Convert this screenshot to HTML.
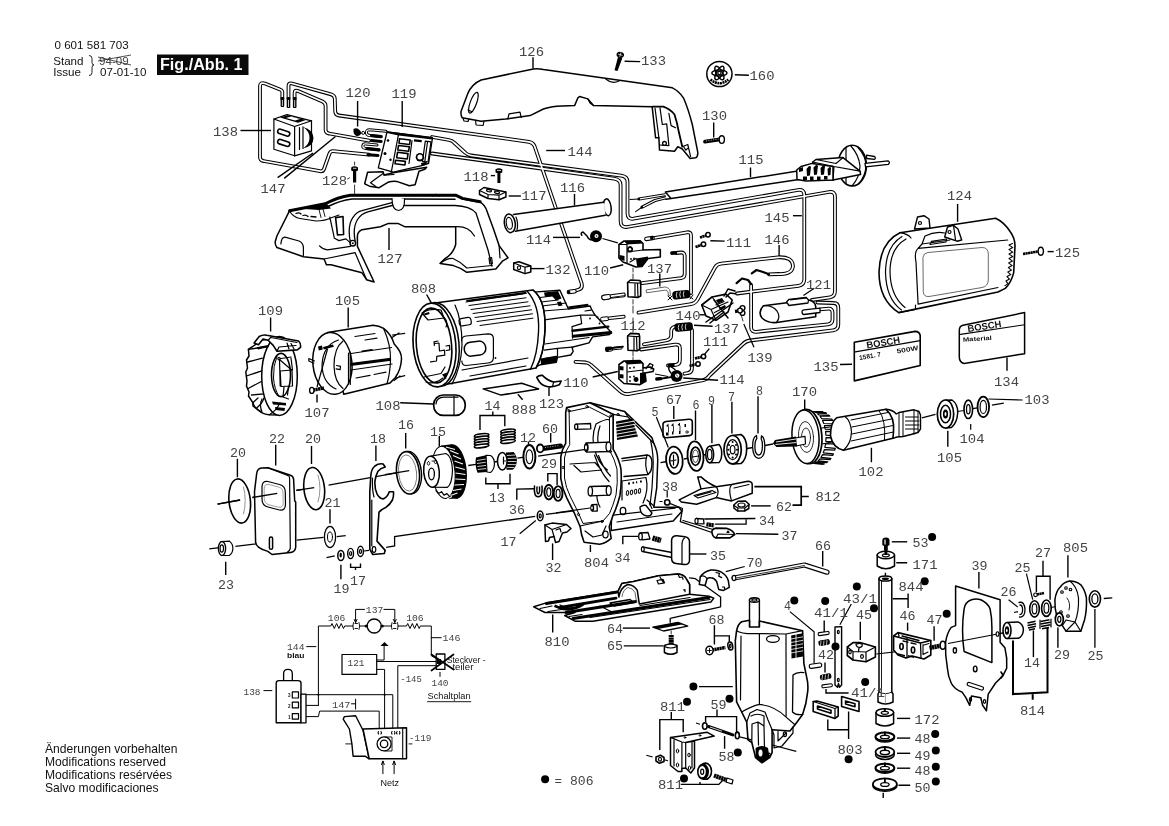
<!DOCTYPE html>
<html><head><meta charset="utf-8"><title>Fig./Abb. 1</title>
<style>
html,body{margin:0;padding:0;background:#fff;}
body{width:1169px;height:826px;overflow:hidden;}
svg{display:block;filter:grayscale(1);}
.l{font-family:"Liberation Mono",monospace;font-size:12.5px;fill:#444;}
.s{font-family:"Liberation Sans",sans-serif;fill:#111;}
.k{stroke:#000;fill:none;stroke-width:1.2;stroke-linecap:round;stroke-linejoin:round;}
.t{stroke:#000;fill:none;stroke-width:0.8;stroke-linecap:round;stroke-linejoin:round;}
.h{stroke:#000;fill:none;stroke-width:1.8;stroke-linecap:round;stroke-linejoin:round;}
.w{stroke:#000;fill:#fff;stroke-width:1.2;stroke-linecap:round;stroke-linejoin:round;}
.wt{stroke:#000;fill:#fff;stroke-width:0.8;stroke-linejoin:round;}
.b{fill:#000;stroke:none;}
.ld{stroke:#000;fill:none;stroke-width:1.4;}
.wr{stroke:#000;fill:none;stroke-width:3.8;stroke-linejoin:round;stroke-linecap:round;}
.wi{stroke:#fff;fill:none;stroke-width:1.7;stroke-linejoin:round;stroke-linecap:round;}
</style></head><body>
<svg width="1169" height="826" viewBox="0 0 1169 826">
<rect x="0" y="0" width="1169" height="826" fill="#fff"/>
<!-- 00_header.svg -->
<g class="s">
<text x="54.5" y="49" font-size="11.6">0 601 581 703</text>
<text x="53.2" y="64.8" font-size="11.6">Stand</text>
<text x="53.2" y="76.2" font-size="11.6">Issue</text>
<text x="100" y="76.2" font-size="11.6">07-01-10</text>
<text x="99" y="64.5" font-size="11.600" fill="#444">94-09</text>
<path d="M98 61 L131 55 M98 57 L131 65" stroke="#222" stroke-width="0.8" fill="none"/>
<path d="M89 55.5 q3 0 3 3 v4 q0 2.5 2 2.5 q-2 0 -2 2.5 v5 q0 3 -3 3" stroke="#222" stroke-width="1" fill="none"/>
<rect x="157" y="54.5" width="91.5" height="20.5" fill="#0a0a0a"/>
<text x="160" y="70" font-size="16" font-weight="bold" fill="#fff" textLength="82.5" lengthAdjust="spacingAndGlyphs">Fig./Abb. 1</text>
<text x="45" y="753" font-size="12.100">Änderungen vorbehalten</text>
<text x="45" y="766" font-size="12.100">Modifications reserved</text>
<text x="45" y="779" font-size="12.100">Modifications resérvées</text>
<text x="45" y="792" font-size="12.100">Salvo modificaciones</text>
</g>

<!-- 10_wires.svg -->
<!-- wires: drawn as black stroke + white inner -->
<g id="wires">
<g class="wr">
<path d="M282.3 99 V91.5 Q282 90 280 89.5 L265 83.5 Q260 82 260 86 V157 Q260 160.5 263.5 161 L320 171.2 Q323 171.8 324 169 L329.5 153.5 Q330.5 151 333 151.2 L369 154.7"/>
<path d="M288.5 99 V86 Q288.5 82.5 292 83.5 L331 94.3 Q334.5 95.3 334.8 98.5 L335.2 111.5 Q335.5 115 339 115.5 L529 141.8 Q533 142.5 534.5 146 L581.5 283 Q583 288 579 289.5 L573 291.5"/>
<path d="M294.6 99 V93 Q294.6 89.5 298 91 L322.5 101.5 Q325.6 103 325.6 106 V129.5 Q325.6 133 329 133.5 L369 140.6"/>
<path d="M432 137 L449 140 Q452 140.5 454 142.5 L465 152.5 Q467.5 155 471 155.5 L621 175.7 Q627.5 176.5 627.5 182 V213.5 Q627.5 219.5 633.5 218.7 L798 190 Q804.3 189 804.3 195 V279 Q804.3 285 798.5 285.8 L737 293.5"/>
<path d="M432 153.5 L614 178.6 Q620.6 179.5 620.6 185 V221 Q620.6 227.8 627 227 L829 192 Q835 191 835 197 V291 Q835 296.5 830 297.3 L812 300"/>
<path d="M638.5 312.6 L691 304.2 Q695.5 303.5 697.5 299.5 L715 267.5 Q717 264 721 263.7 L778 257.3 Q792.5 256.5 793 266 Q792.5 274.5 779 274 L769 274.3"/>
<path d="M751.1 285 V327 Q751.1 332.5 756.5 331.8 L828 324.3 Q832.5 323.8 832.5 319.5 V312.5 Q832.5 308.5 828.5 308.7 L820 309.3"/>
<path d="M575.5 361.8 L586 362.5 Q589 363 591 365 L620 391 Q623.5 394.5 628 394.2 L702 380.5 Q707 379.6 709.5 375.5 L742 345 Q745.5 341 750 340.5 L833 330.3 Q838.3 329.6 838.3 324.5 V308 Q838.3 303 833.5 303 L817.5 302.5"/>
<path d="M654 238 L687 232.3 Q691 231.8 691 235.5 V293"/>
<path d="M676 253 L681 252.5 Q684.7 252.3 684.7 256 V274 Q684.7 277.6 681 278.2 L642 283.2"/>
<path d="M643.9 344.3 L666 340.5 Q671.2 339.5 671.2 335.5 V331 Q671.2 328 674.5 326.8"/>
<path d="M641 349.5 L675 344.6 Q679.9 344 679.9 348 V360 Q679.9 364.5 676 364.8 L668 365.5"/>
<path d="M692 330 V368 Q692 372.5 688 373 L684.5 373.7"/>
</g>
<g class="wi">
<path d="M282.3 99 V91.5 Q282 90 280 89.5 L265 83.5 Q260 82 260 86 V157 Q260 160.5 263.5 161 L320 171.2 Q323 171.8 324 169 L329.5 153.5 Q330.5 151 333 151.2 L369 154.7"/>
<path d="M288.5 99 V86 Q288.5 82.5 292 83.5 L331 94.3 Q334.5 95.3 334.8 98.5 L335.2 111.5 Q335.5 115 339 115.5 L529 141.8 Q533 142.5 534.5 146 L581.5 283 Q583 288 579 289.5 L573 291.5"/>
<path d="M294.6 99 V93 Q294.6 89.5 298 91 L322.5 101.5 Q325.6 103 325.6 106 V129.5 Q325.6 133 329 133.5 L369 140.6"/>
<path d="M432 137 L449 140 Q452 140.5 454 142.5 L465 152.5 Q467.5 155 471 155.5 L621 175.7 Q627.5 176.5 627.5 182 V213.5 Q627.5 219.5 633.5 218.7 L798 190 Q804.3 189 804.3 195 V279 Q804.3 285 798.5 285.8 L737 293.5"/>
<path d="M432 153.5 L614 178.6 Q620.6 179.5 620.6 185 V221 Q620.6 227.8 627 227 L829 192 Q835 191 835 197 V291 Q835 296.5 830 297.3 L812 300"/>
<path d="M638.5 312.6 L691 304.2 Q695.5 303.5 697.5 299.5 L715 267.5 Q717 264 721 263.7 L778 257.3 Q792.5 256.5 793 266 Q792.5 274.5 779 274 L769 274.3"/>
<path d="M751.1 285 V327 Q751.1 332.5 756.5 331.8 L828 324.3 Q832.5 323.8 832.5 319.5 V312.5 Q832.5 308.5 828.5 308.7 L820 309.3"/>
<path d="M575.5 361.8 L586 362.5 Q589 363 591 365 L620 391 Q623.5 394.5 628 394.2 L702 380.5 Q707 379.6 709.5 375.5 L742 345 Q745.5 341 750 340.5 L833 330.3 Q838.3 329.6 838.3 324.5 V308 Q838.3 303 833.5 303 L817.5 302.5"/>
<path d="M654 238 L687 232.3 Q691 231.8 691 235.5 V293"/>
<path d="M676 253 L681 252.5 Q684.7 252.3 684.7 256 V274 Q684.7 277.6 681 278.2 L642 283.2"/>
<path d="M643.9 344.3 L666 340.5 Q671.2 339.5 671.2 335.5 V331 Q671.2 328 674.5 326.8"/>
<path d="M641 349.5 L675 344.6 Q679.9 344 679.9 348 V360 Q679.9 364.5 676 364.8 L668 365.5"/>
<path d="M692 330 V368 Q692 372.5 688 373 L684.5 373.7"/>
</g>
<!-- connector tips at 138 -->
<g class="b">
<rect x="280.6" y="97" width="3.6" height="10" rx="1"/><rect x="286.7" y="97" width="3.6" height="11" rx="1"/><rect x="292.9" y="97" width="3.6" height="11" rx="1"/>
</g>
<g stroke="#fff" stroke-width="0.8"><path d="M282.4 100 v6 M288.5 100 v7 M294.7 100 v7"/></g>
</g>

<!-- 20_topleft.svg -->
<g id="p138">
<path class="w" d="M273.9 119 L287 114.6 L311.5 120.8 L311.5 150.9 L294.6 155.8 L273.9 149.2 Z"/>
<path class="k" d="M273.9 119 L294.6 126.5 L311.5 120.8 M294.6 126.5 V155.8"/>
<path class="b" d="M280 117.5 L287.5 115.2 L306 120 L298 122.8 Z"/>
<path d="M286 118 L291 116.5 L300 119 L295 120.5 Z" fill="#fff"/>
<rect style="stroke-width:1.6" class="k" x="278.5" y="128.5" width="12.5" height="4.6" rx="2.3" transform="rotate(18 278.5 128.5)"/>
<rect style="stroke-width:1.6" class="k" x="278.5" y="138.8" width="12.5" height="4.6" rx="2.3" transform="rotate(18 278.5 138.8)"/>
<path class="k" d="M299.5 127.5 V149.5 M303 126.8 V148.5" />
<path class="b" d="M303 127 Q313.5 130 313.5 138 Q313.5 146 303 148.5 Q309.5 144 309.5 138 Q309.5 131 303 127 Z"/>
<path class="ld" d="M240.5 130.5 H271"/>
</g>
<g id="p147ld"><path class="ld" d="M277.6 177.6 L313 153 M284.2 178.4 L335.5 136.5"/></g>
<g id="p120">
<path class="b" d="M353.500 129 Q357 127 360 130.500 L361.500 133 Q360 136.500 356.500 136 Q353 134.500 353.500 129 Z"/>
<circle style="stroke-width:1" class="w" cx="363.200" cy="132.900" r="1.500"/>
<path class="ld" d="M357.6 101 V126.5"/>
</g>
<g id="p119">
<path class="ld" d="M402.2 101 V127"/>
<!-- terminal loops -->
<path style="stroke-width:3" class="wr" d="M386 131.300 L369.500 129.800 Q366.300 129.800 366.400 132.600 Q366.600 135.300 370 135.600 L381 136.800 M379 150 L365.500 148.500 Q362.500 148 362.800 145.800 Q363.200 143.600 366 143.900 L377 145"/>
<path style="stroke-width:1.100" class="wi" d="M386 131.300 L369.500 129.800 Q366.300 129.800 366.400 132.600 Q366.600 135.300 370 135.600 L381 136.800 M379 150 L365.500 148.500 Q362.500 148 362.800 145.800 Q363.200 143.600 366 143.900 L377 145"/>
<path style="stroke-width:3" class="k" d="M371.500 135.600 L381.200 136.600 M371.500 140.400 L381.200 141.400 M367 148.400 L379 149.700 M368 154.700 L378 155.500"/>
<path style="stroke-width:1.300" class="w" d="M387 132 L432.500 137.800 L428.600 163.400 L422.800 165.400 L393.300 172.200 L378.300 167.800 Z"/>
<path class="k" d="M398.6 133.900 L391.300 172.200"/>
<path class="b" d="M387 131.200 L432.800 137 L432.400 139.600 L398.600 135.400 L387 133 Z"/>
<g style="stroke-width:1.600" class="k"><path d="M399.500 138.700 L410.200 140 L409.600 144.500 L399 143.200 Z M398.500 145.500 L409.300 146.800 L408.600 151.300 L397.800 150 Z M397.500 152.300 L408 153.600 L407.300 159 L396.700 157.700 Z M395.500 160.200 L405.400 161.400 L404.900 165 L395 163.800 Z"/></g>
<path class="b" d="M414.100 139.200 L421.900 140.100 L421.600 142.300 L413.800 141.400 Z"/>
<path style="stroke-width:1.200" class="k" d="M412 140.500 L409 163.500 M425.300 141.200 L431 141.900 L428 162 L422.500 161.300 Z M427.500 142 L424.800 161.500"/>
<circle class="b" cx="419.900" cy="157.200" r="4.200"/><circle cx="419.900" cy="157" r="2.500" fill="#fff"/>
<path class="b" d="M421 163 l6 -1.500 l-0.500 3 l-5 1.300 z"/>
<circle class="b" cx="388" cy="140.500" r="1.300"/><circle class="b" cx="385" cy="153.500" r="1.500"/><circle class="b" cx="390.500" cy="159.700" r="1.200"/>
<!-- trigger -->
<path style="stroke-width:1.500" class="w" d="M367.6 172.2 L383.1 171.7 L384.1 175.1 L393.3 172.7 L426.7 167.3 L424.8 169.3 L419 171.2 L415.1 184.8 L409.3 185.7 L396.7 181.4 Q392 181 387.9 182.3 L379.2 187.7 L369.5 186.2 L364.7 183.8 Z"/>
<path class="k" d="M384.100 175.100 L394 174.500 M375.800 178.800 L370.500 182.700 L375.800 186.600 M375.800 178.800 L383.100 173.500"/>
</g>
<g id="p128">
<path class="b" d="M351.2 167.5 Q354.5 165.2 358 167.5 L358 170.5 L356.2 171.2 L356.2 182.5 L353 182.5 L353 171.2 L351.2 170.5 Z"/>
<path d="M353 168.3 h3.4" stroke="#fff" stroke-width="0.8"/>
<path style="stroke-dasharray:none" class="t" d="M354.6 162 v3 M354.6 185 V197 M354.6 200 V212 M354.6 215 V232 M354.6 236 V243"/>
<path class="t" d="M347.5 179 l2 -1.2"/>
</g>

<!-- 21_handle.svg -->
<g id="p127">
<path style="stroke-width:1.500" class="w" d="M289.6 210.7 L325.2 203.8 Q338 197 350.5 195.2 L455.7 195.6 L462.4 198.9 L480.2 202.2 Q485 205 486.9 211.1 L493.5 228.9 L499.1 245.6 L508 257.8 L502.4 261.2 L495.8 269 L466.8 272.3 Q460 267.5 453.5 265.6 L440.2 263.4 L444.6 259 Q453 254 455.7 244.5 L455.7 226.7 L404.6 226.7 L397.9 223.4 L388.500 223.400 L380.4 226.8 L362 229.7 Q357.500 232 357.400 236 L357.4 246.4 L374.1 282 L366.6 279.7 L362 272.800 L331 264.800 L326.400 264.800 L324.1 259 L303.4 256.7 L276.9 247.5 Q275 245 275.2 241.8 L276.9 236 Z"/>
<path style="stroke-width:3" class="h" d="M289.6 210.7 L325.2 203.8 Q338 197 350.5 195.2 L455.7 195.2 L462.4 198.4 L480.2 201.8"/>
<path class="b" d="M297 208.500 L327 204 L331 208.500 L319 210 Z"/>
<path style="stroke-width:1.600" class="k" d="M328 206.500 Q340 200.500 352 199 L392 199 M402 199 L455 199.300"/>
<path style="stroke-width:1.300" class="k" d="M350.5 242.9 Q347 226 352.8 217.6 Q357 211.500 362 210.7 L392 202.700 M355.100 240.600 Q352.500 228 357.500 219.500 Q361 214 367.800 211.900 L392 205.500 L455 205.500 Q470 206 476 213 L488 250 L492 266"/>
<path style="fill:#fff" class="k" d="M392 198.500 Q392 210 398.5 210.5 Q405 210 404.5 198.6"/>
<path class="k" d="M455.7 226.7 Q469 226 474.5 236"/>
<path class="k" d="M289.6 211.500 Q294 217.500 300 218.500 L316 221 Q325 221 332 217.500 L339 215 M329.8 217 L334.4 238.3 L339 240.6 L345.9 238.9 L350.5 242.9 M324.100 259 L355.100 252.700 L366.600 279.700 M319.5 245.8 Q323 249.500 327.5 249.8 L350.5 246.4"/>
<path style="stroke-width:1.600" class="k" d="M335.600 217.600 L343 216.500 L343.600 234.500 L337.500 234.900 Z"/>
<path style="stroke-width:0.900" class="k" d="M319 209.500 L321 217.500 M323 209 L325 216.500"/>
<path style="stroke-width:1.300" class="k" d="M296 213.500 q3 -1.500 5 0.500 M303 215.500 q3 -1 5 1 M311 216.500 l5 0.500"/>
<path style="stroke-width:1.200" class="k" d="M280.900 244 Q281.500 237 285 237.200 L299 241 Q303.400 243 303.400 248 L303.400 255.600"/>
<circle style="stroke-width:1.400" class="k" cx="352.800" cy="243.200" r="2.800"/><circle class="b" cx="352.800" cy="243.200" r="1"/>
<path class="k" d="M433 196 q3 -3.5 6.5 0"/>
<path class="k" d="M440.2 263.4 Q447 258 453 258.5 Q461 262 466.8 268 L492 265.5 M489 258 l2.6 -0.5 l0.8 6 l-2.6 0.5 z M499.1 245.6 L500 258"/>
<path class="ld" d="M389 228 V250"/>
</g>
<g id="p126">
<path style="stroke-width:1.500" class="w" d="M462.2 117.8 Q460.5 115 461.1 111.2 L467.8 93.4 Q472 84 481.1 80 L533.4 68.9 Q538 68.3 543.4 69.4 L672.4 87.8 Q679 91 683.4 97.8 Q688 108 692.3 124.5 L697.8 152.3 Q698 156.500 695.6 157.8 L690.1 158.4 L682.3 149 L677.800 146.700 L674.500 151.200 L659.5 150.1 L658.900 137.800 L655.600 137.800 L652.2 107.2 L652.4 106.7 L593.5 105.6 L587.9 98.9 L579.5 96.5 L577.9 97.8 L574.6 105.6 L556.8 106.3 Q548 107.5 543.4 109 L530.1 115.6 L505.6 119 L481.1 121.2 Z"/>
<path style="stroke-width:1.800" class="k" d="M652.200 106.700 L663.4 106.7 Q670 109 674.5 114.5 Q677 122 678.9 132.3 L682.3 146.7"/>
<path class="k" d="M655 108 L658.900 137.800 M660 107.8 L662.3 124.5 L666.7 123.9 L668.9 145.6 L659.500 145 M668.9 113.4 L671.1 125.6 L675.6 127.8 M683.4 146.2 L687.8 144.5 L690.6 156.7 M683.400 146.200 l2.500 4 l2 -2"/>
<circle style="stroke-width:1.300" class="k" cx="664.5" cy="143.4" r="1.900"/>
<ellipse class="k" cx="473.4" cy="102.7" rx="3.2" ry="11" transform="rotate(20 473.4 102.7)"/>
<path class="k" d="M468 110 l3.5 1.5 M463 118 l1 3 l4 0.5 l1 -2.5 M475.6 121.5 l0.5 3.5 l7 0.5 l0.8 -3.8"/>
<path class="k" d="M507.8 119 L509 113.8 L520 112.2 L521.2 117.5"/>
<path class="k" d="M605.7 79 Q612 84.5 619 81"/>
<path class="k" d="M587.9 98.9 L590 103 L593.5 105.6"/>
<path class="ld" d="M533 57.3 V68.5"/>
</g>
<g id="p133">
<ellipse class="b" cx="620.3" cy="54.8" rx="3.8" ry="3" transform="rotate(15 620.3 54.8)"/>
<path d="M618 54 l4.5 1.5 M621 52.6 l-1.3 4.2" stroke="#fff" stroke-width="0.7"/>
<path class="b" d="M618 57 L622.300 58.200 L617.500 71 L614.500 70.200 Z"/>
<path class="ld" d="M624.6 61.2 L640.2 61.6"/>
</g>
<g id="p160">
<circle style="stroke-width:1.5" class="k" cx="719.4" cy="74" r="12.6"/>
<g style="stroke-width:1.500" class="t"><ellipse cx="719.4" cy="73" rx="7.600" ry="3"/><ellipse cx="719.4" cy="73" rx="7.600" ry="3" transform="rotate(60 719.4 73)"/><ellipse cx="719.4" cy="73" rx="7.600" ry="3" transform="rotate(120 719.4 73)"/></g>
<circle style="fill:#fff" class="k" cx="719.4" cy="73" r="1.600"/>
<path d="M710.500 79.500 Q719.4 87 728.300 79.500" stroke="#000" stroke-width="2.600" fill="none" stroke-dasharray="2 0.600"/>
<path class="ld" d="M734.8 74.8 L748.9 75.3"/>
</g>
<g id="p130">
<path d="M705 141.700 L720 139.400" stroke="#000" stroke-width="3.800" stroke-linecap="round" fill="none"/><path d="M706 141 L719 139" stroke="#fff" stroke-width="0.700" stroke-dasharray="1 1.400" fill="none"/>
<ellipse style="stroke-width:1.4" class="w" cx="721.8" cy="139.6" rx="2.6" ry="3.8"/>
<path class="ld" d="M713.7 122.5 V137.5"/>
</g>
<g id="p118">
<path class="b" d="M495.5 169.2 Q499 167.2 502.3 169.2 L502.3 172.5 L500.4 173.2 L500.4 183 L497.4 183 L497.4 173.2 L495.5 172.5 Z"/>
<path d="M497 170.4 h4" stroke="#fff" stroke-width="0.8"/>
<path class="ld" d="M490.8 175.6 H495"/>
</g>
<g id="p117">
<path style="stroke-width:1.5" class="w" d="M479.5 190.5 L484 187.5 L505.9 192 L505.9 197 L499 199.7 L488 198.5 L479.5 194.5 Z"/>
<path class="k" d="M479.5 190.5 L488 194.5 L499 195.2 L505.9 192 M488 194.5 V198.5 M499 195.2 V199.7"/>
<ellipse class="k" cx="489" cy="190.7" rx="2.5" ry="1.1" transform="rotate(12 489 190.7)"/><ellipse class="k" cx="497" cy="192.3" rx="2.5" ry="1.1" transform="rotate(12 497 192.3)"/>
<path class="ld" d="M508.7 196 H520.9"/>
</g>
<g id="p116">
<ellipse style="stroke-width:1.5" class="w" cx="607.3" cy="207.3" rx="3.8" ry="8.5" transform="rotate(-8 607.3 207.3)"/>
<path style="stroke:none" class="w" d="M513.4 214.8 L603.7 202.6 L605.6 214.8 L515.3 230.8 Z"/>
<path style="stroke-width:1.5" class="k" d="M513.4 214.5 L603.7 202.3 M515.3 231.2 L605.3 215.2"/>
<ellipse style="stroke-width:1.5" class="w" cx="509.8" cy="223.3" rx="5.4" ry="9.4" transform="rotate(-8 509.8 223.3)"/>
<ellipse class="k" cx="509.3" cy="223.3" rx="3" ry="6" transform="rotate(-8 509.3 223.3)"/>
<path class="k" d="M516 217 Q518.5 223 517 230"/>
<path class="ld" d="M574.5 194 V205.4"/>
</g>
<g id="p132">
<path style="stroke-width:1.5" class="w" d="M513.7 263 L519 261.7 L530.8 266 L530.8 272 L525 273.6 L513.7 269.5 Z"/>
<path class="k" d="M513.7 263 L525 267.2 L530.8 266 M525 267.2 V273.6"/>
<ellipse class="k" cx="519" cy="267.8" rx="1.6" ry="1.8"/>
<path class="ld" d="M530.8 268.6 H544.5"/>
</g>

<!-- 30_motor.svg -->
<g id="p109">
<path class="ld" d="M270.6 317.5 V331.5"/>
<path style="stroke-width:1.500" class="w" d="M262 340 L252 347 L248.400 349.300 L249 356 L246.500 360 L247.500 368 L245.800 372 L247 381 L246.500 386 L249 392 L248.500 396 L252.800 402.700 L253 406 L258 410 Q263 414.500 269.300 414.800 L279 415 L279 337 Z"/>
<path style="stroke-width:1.300" class="k" d="M248.400 349.300 L266.800 346.700 M247.500 362 L262.300 358.200 M246.400 376 L261.700 370.900 M247.700 388.700 L262.300 381 M251.500 395 L264.200 393.800 M252.800 402.700 L258 398 M256.600 408 Q262 404 264 398"/>
<ellipse style="stroke-width:1.500" class="w" cx="279.5" cy="376" rx="17.8" ry="39.4"/>
<ellipse style="stroke-width:1.600" class="k" cx="281" cy="375" rx="9.5" ry="21.6"/>
<path style="stroke-width:1" class="k" d="M277 356 Q273 366 273.500 378 Q274.500 390 279 396"/>
<path style="stroke-width:1.600" class="w" d="M254.1 342.9 L259.2 336.5 Q263 334.500 266.8 335.3 L298.6 341 Q301 343.500 300.5 347.3 L297.3 349.9 L277 351.2 L273.2 345.4 L268.1 340.3 L263 339.1 L258.5 344.8 Z"/>
<path class="k" d="M268.100 340.300 L271 337 M271 337.500 L297 342.500 M277 351.200 L279 347 L296 345.500 M287 343 l2 6 M291 343.500 l3 5.500"/>
<path class="b" d="M256.500 347.200 L268 345 L269 347 L258 349.500 Z M272 401.500 L286 403 L286 405.500 L273 404.500 Z M275 407 l10 1 l-0.500 3 l-9 -1 z"/>
<path style="stroke-width:1.200" class="k" d="M280.200 371 L292 370 L292.500 386 L281 386.500 Z M279.500 359.500 L291.600 370 M279.500 359.500 L280.200 386 M279 357.500 a1.200 1.200 0 1 0 0.100 0 M291 358 L292.500 370 M281 358.500 L291 357 M284 387 L283 397 L288.500 399 M288.500 386.500 L287.500 395"/>
<path style="stroke-width:1.200" class="k" d="M253 403 Q255 409 262 412 M262 399 Q259 405 262 412 M269.300 414.800 Q276 411 280 403"/>
</g>
<g id="p105">
<path class="ld" d="M348.2 307.5 V327.5"/>
<path style="stroke-width:1.5" class="w" d="M327.5 332.5 L373 325.2 Q379 325.5 383.6 328.4 Q391 334 394.2 343.9 Q402 352 401.5 359 Q401 370 395 378 L390.1 382.9 L343.8 394.3 Z"/>
<ellipse style="stroke-width:1.5" class="w" cx="332.4" cy="363.4" rx="19.5" ry="31" transform="rotate(-6 332.4 363.4)"/>
<path class="k" d="M338.5 340 Q323 345 322 365 Q322.5 383 336 389 M343 341 Q334 348 334 366 Q334.5 382 343 388.5"/>
<path class="k" d="M350.3 352 V384.5 M348.5 353 V384"/>
<path d="M350.5 364.5 L390.9 359.3" stroke="#000" stroke-width="3" fill="none"/>
<path class="k" d="M351 353.5 L391.5 347.5 M351 370 L392 364 M355 336.5 L375 333.5 M362 351 l10 -1.5 M365 340 l12 -1.8 M356 378 l14 -2.6 M374 374.5 l12 -2.3 M383.6 328.4 Q391 345 390.5 360 Q390 374 387 383.5"/>
<path class="k" d="M392.5 335 L404.7 333.3 M392 337.5 L399 333 M395.8 378 L404.7 375.6 M394 380.5 L400 376"/>
<path class="k" d="M308.8 358.5 L314.5 361 M308.8 358.5 v2.5 l5 2.2"/>
<path class="b" d="M318 346.5 l4 -1 l0.8 4 l-4 1 z M323 347 l10 -2.6 l0.8 2.4 l-10 2.6 z"/>
<path class="k" d="M336.5 365.5 l4 0.8 l-0.4 3.4 l-4 -0.8"/>
</g>
<g id="p107">
<path d="M313 390.2 L324 388" stroke="#000" stroke-width="3.4" stroke-dasharray="2.200 0.350" fill="none"/>
<ellipse style="stroke-width:1.4" class="w" cx="311.8" cy="390.4" rx="2.2" ry="3"/>
<path style="stroke-width:1.2" class="ld" d="M317 387 L327.5 349"/>
<path class="ld" d="M317 394.5 V402.5"/>
</g>
<g id="p108">
<rect style="stroke-width:1.7" class="w" x="433.7" y="395" width="31.5" height="20.4" rx="9.5"/>
<path class="k" d="M436 404 Q436.5 397.5 444 397.2 L458 397.2 M454 396 V415"/>
<path class="ld" d="M400.2 402.8 L433.7 404"/>
</g>
<g id="p808">
<path class="ld" d="M426.6 294.5 L431.3 302.9"/>
<!-- rear section -->
<path style="stroke-width:1.400" class="w" d="M533.3 292.1 L559.9 290.3 L568.4 309 L590.2 306 L591.4 309 L595 315.1 L611.4 332.6 L609.5 334.5 L592.6 336.9 L589 342.9 L572 347.2 L573.2 351.4 L570.8 355 L557.5 357.4 L556.3 362.3 L540.6 364.7 L533 368 Z"/>
<path class="b" d="M544 292.500 L558 291 L561.500 298.500 L556 300.500 L552 296 L545 297 Z M557 302 l4 -0.600 l1.500 4 l-4 0.800 z M540.600 358.500 L557.500 356 L556.300 362.300 L541 364.700 Z M568 306.500 l20 -2.800 l0.800 2 l-20 2.800 z"/>
<path style="stroke-width:2.400" class="k" d="M572.600 330.800 L608.300 326.600"/><path style="stroke-width:3" class="k" d="M573.200 336.300 L610.800 332.600"/>
<path style="stroke-width:1.200" class="k" d="M544.2 319.9 L580.5 315.1 L581.7 323.6 L572 326.6 L572.6 338.1 M540 297.500 L556 295.500 M541 302 L558 300 M542 306 L566 303 M543 311 L568 309 M580.500 315.100 L595 315.100 M585 311 l6 -0.800 M544.2 350.2 L557.5 348.4 L557.5 356.2 L544.2 358.7 M557.500 348.400 L572 347.200 M545 344 L589 337.500 M600 321 l1 0 M597 317 l1 0"/>
<circle class="b" cx="599.500" cy="323.500" r="0.900"/><circle class="b" cx="590" cy="318.500" r="0.900"/>
<!-- body -->
<path style="stroke-width:1.5" class="w" d="M435 303 L533 290 Q546 300 545 330 Q544 355 536 368 L442.6 385 Z"/>
<path style="stroke-width:1.4" class="k" d="M527 291 Q540 305 538.5 332 Q537.5 355 530.5 369.2 M533 290 Q546 300 545 330 Q544 355 536 368"/>
<path style="stroke-width:1" class="k" d="M469 305.5 L526 297.8 M471 309.5 L528 301.8 M473 313.5 L530 305.8 M475 317.5 L531.5 309.8 M477 321.5 L532.5 313.8 M480 325.5 L533 318.2 M466 302 L523 294"/>
<path class="b" d="M466 300 L526 291.8 L527 293.8 L467 302 Z"/>
<path class="k" d="M455 305 Q462 320 462 345 Q461 368 452 384"/>
<path class="k" d="M461.500 341 Q461.500 336.500 466 336 L488 333.800 Q493.400 333.800 493.400 338.500 L493.400 357.500 Q493.400 362.500 488 363 L466 365.500 Q462 365.500 461.800 361"/>
<rect style="stroke-width:1.5" class="k" x="463.5" y="343" width="21.5" height="14" rx="6.5" transform="rotate(-7 463.5 343)"/>
<rect class="k" x="458.6" y="319" width="12" height="7.5" rx="2.5" transform="rotate(-10 458.6 319)"/>
<circle class="b" cx="495.5" cy="358" r="0.9"/>
<path class="k" d="M462 370 L528 358 M470 376 L526 366"/>
<!-- front flange -->
<ellipse style="stroke-width:1.5" class="w" cx="437.5" cy="344.5" rx="21.5" ry="42" transform="rotate(-5 437.5 344.5)"/>
<ellipse style="stroke-width:1.6" class="w" cx="434.5" cy="345" rx="21.3" ry="42" transform="rotate(-5 434.5 345)"/>
<ellipse style="stroke-width:1.6" class="k" cx="434" cy="345.5" rx="17.6" ry="37.5" transform="rotate(-5 434 345.5)"/>
<path class="k" d="M422 313 Q430 308 441 310 L444 318 L428 320 Z M424 377 L441 373.5 L445 367 M426 382 Q434 385 443 378 M444.5 318 Q448 322 446 327 M435 343.5 l4 -0.5 l0.5 8 l5 -0.8 l0.3 5 l-8 1.2 l-0.3 4.6 l-6 0.8 M438 341 l-4 0.8 l0.4 3.6 M446 346 l3.5 -0.6 l0.3 4.5 l-3.6 0.6"/>
<path class="b" d="M424 313.5 l5 -1.5 l0.6 2 l-5 1.5 z M442 374.5 l5 -2 l-1 7 z"/>
</g>
<g id="p888">
<path style="stroke-width:1.5" class="w" d="M483.1 388.9 L521.7 383.3 L538.6 388.9 L501 395.1 Z"/>
<path class="ld" d="M517.9 394.2 L522.6 399.8"/>
</g>
<g id="p123">
<path style="stroke-width:1.6" class="w" d="M536.7 377.3 Q539 375 542.4 375.4 Q548 381 553.7 382 L561.2 381 L559.3 384.8 Q553 387.5 548 386.7 Q542 385.5 539.5 382 Z"/>
<path class="k" d="M553.7 382 L552.5 386.5"/>
<path class="ld" d="M549 387.6 V396"/>
</g>
<g id="pins">
<g style="stroke-width:1" class="wt"><rect x="567" y="290.5" width="9" height="3.6" rx="1.6" transform="rotate(-8 567 290.5)"/>
<rect x="601.6" y="295.5" width="8" height="4.4" rx="2" transform="rotate(-6 601.6 295.5)"/><rect x="609" y="295.5" width="16" height="2.8" rx="1" transform="rotate(-6 609 295.5)"/>
<rect x="600.5" y="317.5" width="8" height="3.8" rx="1.6" transform="rotate(-6 600.5 317.5)"/><rect x="608" y="317" width="17" height="2.6" rx="1" transform="rotate(-6 608 317)"/>
<rect x="605.4" y="348" width="7" height="3.6" rx="1.6" transform="rotate(-6 605.4 348)"/><rect x="612" y="347.5" width="10" height="2.4" rx="1" transform="rotate(-6 612 347.5)"/>
</g>
<path class="b" d="M567 291 l3 -0.5 l0.5 3 l-3 0.5 z M605.5 348.5 l3 -0.4 l0.4 3 l-3 0.4z"/>
</g>
<path class="ld" d="M546.2 150.5 H565"/>

<!-- 40_gears.svg -->
<g id="axis1">
<path style="stroke-width:1.3" class="ld" d="M217.5 504.1 L240.1 500 M252.5 497.5 L277.2 493.4 M296.3 490.3 L314.2 487.6 M328.6 485.1 L409.2 470.7 M209.3 548.9 L219.5 547.7 M235.4 546.3 L271 542.1 M296.7 540.1 L323.5 537.4 M336.8 536.6 L345.7 535.6 M326.5 557.6 L334.8 555.9"/>
<path style="stroke-width:1.3" class="ld" d="M386.2 547.3 L394.6 546 L394.6 536.6 L535.2 516.3 M545.9 514.3 L600 507.5"/>
<path style="stroke-width:1.3" class="ld" d="M468.3 465.5 L476.1 464.3 M494.5 462 L500 461 M517.4 458.1 L524.5 457.2 M538.1 456.2 L600 447.2 M423.5 474 L431 473"/>
</g>
<g id="p20a"><ellipse style="stroke-width:1.6" class="k" cx="239.7" cy="501" rx="10.7" ry="22.2" transform="rotate(-6 239.7 501)"/><path style="stroke:#777" class="t" d="M243.5 487 Q247 500 243.5 514"/><path style="stroke-width:1.3" class="ld" d="M217.5 504.1 L240.1 500"/><path class="ld" d="M237.4 458.8 V477.3"/></g>
<g id="p22">
<path style="stroke-width:1.5" class="w" d="M256.6 474.2 Q257 468.5 261.7 468.1 L267.9 467.7 L290.5 475.3 Q293.5 476.5 293.6 479.4 L294.7 501 L295.7 502 L295.7 547.3 Q295 552 290.5 552.4 L272 554.5 L267.9 551.4 Q256 548 255.6 542.1 L254.5 491.7 Z"/>
<path class="k" d="M267.9 467.7 L289 476 Q289.6 477 289.6 479 L290.3 548 Q290 551 287 552.5"/>
<path style="stroke-width:1.2" class="k" d="M262 487 Q262 480.5 268 481.5 L279.5 484.5 Q285.3 486 285.3 492 L285.5 504 Q285.5 511 279.5 510 L268 507 Q262 505.5 262 499 Z"/>
<path style="stroke-width:0.7;stroke:#777" class="k" d="M264.2 488.5 Q264.2 483.5 269 484.5 L278.5 487 Q283 488 283 493 L283.2 503 Q283.2 508 278.5 507.2 L269 504.8 Q264.2 503.5 264.2 498.5 Z"/>
<path style="stroke-width:1.3" class="ld" d="M252.5 497.5 L277.2 493.4"/>
<rect style="stroke-width:1.5" class="k" x="269.4" y="537" width="3.2" height="12.3" rx="1.6"/>
<path class="ld" d="M275.7 444.8 V465.4"/>
</g>
<g id="p20b"><ellipse style="stroke-width:1.6" class="w" cx="314.2" cy="488.6" rx="10.3" ry="21.2" transform="rotate(-6 314.2 488.6)"/><path style="stroke:#777" class="t" d="M318 475 Q322 488 318 502"/><path style="stroke-width:1.3" class="ld" d="M296.3 490.3 L314.2 487.6"/><path class="ld" d="M311.5 446 V464"/></g>
<g id="p21"><ellipse style="stroke-width:1.3" class="w" cx="330" cy="537" rx="5.6" ry="10.7"/><ellipse style="stroke-width:1" class="k" cx="330" cy="537" rx="2.5" ry="5.1"/><path class="ld" d="M330 509.2 V523.6"/></g>
<g id="p23"><path class="w" d="M222 541.5 L229.5 541.1 Q233 544 232.9 548.5 Q232.5 553.5 229.5 555.3 L222 555.5 Z"/><ellipse style="stroke-width:1.4" class="w" cx="222" cy="548.5" rx="3.6" ry="7"/><ellipse class="k" cx="221.8" cy="548.5" rx="1.7" ry="3.6"/><path class="ld" d="M225.7 561.7 V575"/></g>
<g id="p19"><ellipse style="stroke-width:1.5" class="w" cx="340.9" cy="555.5" rx="3.1" ry="5.1"/><ellipse class="b" cx="340.7" cy="555" rx="1.2" ry="2.6"/><path class="ld" d="M340.9 564.8 V579.2"/></g>
<g id="p17a"><ellipse style="stroke-width:1.4" class="w" cx="350.6" cy="553.5" rx="2.9" ry="5.1"/><ellipse class="k" cx="350.6" cy="553.5" rx="1" ry="2"/><ellipse style="stroke-width:1.4" class="w" cx="360.5" cy="551.4" rx="2.9" ry="5.1"/><ellipse class="k" cx="360.5" cy="551.4" rx="1" ry="2"/>
<path class="ld" d="M350.6 563.5 V567.4 H360.5 V563.5 M355.5 567.4 V570"/><path style="stroke-width:1.2" class="ld" d="M364 551 L369 550.3"/></g>
<g id="p18">
<path style="stroke-width:1.6" class="w" d="M370.8 476.3 Q371 469.5 374.9 466 Q379 463 383.1 464 L385.2 467 Q380.5 468 378 471.2 Q375.5 476 374.9 481.4 Q374.5 488.5 377 493.8 Q379.5 498.5 383.1 498.9 Q387.5 497 389.3 491.7 L393.4 491.7 Q394 496 392.4 500 Q390 504.5 386.2 507.2 Q381 509.5 379 512.3 L377 541.1 L385.2 550.4 L384.2 553.5 L372.8 554.5 L369.8 549.3 L369.8 491.7 Z"/>
<path class="k" d="M372.5 478 Q372 490 374 497 M371.8 500 V546"/>
<ellipse class="k" cx="374" cy="549.5" rx="1.8" ry="2.8"/>
<path class="ld" d="M375.9 445.4 V460.9"/>
</g>
<g id="p16"><ellipse style="stroke-width:1.4" class="w" cx="409.8" cy="472.6" rx="11.6" ry="21.3" transform="rotate(-6 409.8 472.6)"/><ellipse style="stroke-width:1.6" class="w" cx="408" cy="472.8" rx="11.4" ry="21.3" transform="rotate(-6 408 472.8)"/><ellipse style="stroke:#666" class="t" cx="407.6" cy="473" rx="9" ry="18.2" transform="rotate(-6 407.6 473)"/><path style="stroke-width:1.3" class="ld" d="M385 474.6 L409.2 470.7"/><path class="ld" d="M405.7 433 V448.4"/></g>
<g id="p15">
<ellipse class="b" cx="454.5" cy="471.5" rx="12.3" ry="27.3" transform="rotate(-5 454.5 471.5)"/>
<path class="b" d="M441 445.500 L452 444.300 L458 498.500 L447 499 Z"/>
<ellipse cx="443.500" cy="472.300" rx="11.500" ry="26.200" transform="rotate(-5 443.500 472.300)" fill="#fff" stroke="#000" stroke-width="1"/>
<g stroke="#fff" stroke-width="1.100" fill="none"><path d="M446 447 l9 2.500 M450 450.500 l8.500 3.500 M453 455.500 l8 3.500 M454.500 461 l8.500 3 M455.300 467 l9.500 2.500 M455.500 473 l10 1.500 M455.300 479 l10 0.500 M454.500 485 l9.500 -0.500 M453 490.500 l8.500 -1.500 M450.500 495.500 l7 -2.500 M447 499 l5 -2.500"/></g>
<path class="w" d="M431 456.2 L446 453.5 Q452 456 452.5 470.5 Q452 484 447.5 487.3 L432.5 487.2 Z"/>
<ellipse style="stroke-width:1.5" class="w" cx="431.5" cy="471.7" rx="7.8" ry="15.5" transform="rotate(-5 431.5 471.7)"/>
<ellipse style="stroke-width:1.3" class="k" cx="431.5" cy="474" rx="2.9" ry="5.8"/>
<path style="stroke-width:0.9" class="k" d="M428.5 461.5 a1.3 1.8 0 1 0 0.1 0 M432 461 l2 0 M435.5 460 a1.3 1.8 0 1 0 0.1 0"/>
<path class="k" d="M436 490.500 l2.5 3 l3 -1.8 l2.5 3.4 l3 -1.5 l2.6 3" />
<path class="ld" d="M439.3 435.9 V446.5"/>
</g>
<g id="p14">
<g stroke="#000" stroke-width="1.600" fill="#fff"><ellipse cx="481.6" cy="435.5" rx="7.300" ry="1.700" transform="rotate(-7 481.6 435.5)"/><ellipse cx="481.6" cy="438.1" rx="7.300" ry="1.700" transform="rotate(-7 481.6 438.1)"/><ellipse cx="481.6" cy="440.7" rx="7.300" ry="1.700" transform="rotate(-7 481.6 440.7)"/><ellipse cx="481.6" cy="443.3" rx="7.300" ry="1.700" transform="rotate(-7 481.6 443.3)"/><ellipse cx="481.6" cy="445.9" rx="7.300" ry="1.700" transform="rotate(-7 481.6 445.9)"/><ellipse cx="508.0" cy="431.0" rx="7.300" ry="1.700" transform="rotate(-7 508.0 431.0)"/><ellipse cx="508.0" cy="433.6" rx="7.300" ry="1.700" transform="rotate(-7 508.0 433.6)"/><ellipse cx="508.0" cy="436.2" rx="7.300" ry="1.700" transform="rotate(-7 508.0 436.2)"/><ellipse cx="508.0" cy="438.8" rx="7.300" ry="1.700" transform="rotate(-7 508.0 438.8)"/><ellipse cx="508.0" cy="441.4" rx="7.300" ry="1.700" transform="rotate(-7 508.0 441.4)"/></g>
<path class="ld" d="M480 430 V415.5 H504.8 V426.2 M492.8 411.6 V415.5"/>
</g>
<g id="p13">
<path class="b" d="M476 457.5 L486 455.3 L487 472 L477.5 472.8 Q474.5 465 476 457.5 Z"/>
<g stroke="#fff" stroke-width="0.8"><path d="M477 460.5 l9.5 -1.6 M477 463.5 l9.8 -1.4 M477.3 466.5 l9.6 -1.2 M477.8 469.5 l9 -1"/></g>
<path class="w" d="M486 455.3 L490.5 455.5 Q494.5 458 494.5 464 Q494 470 490.5 472.5 L487 472 Z"/>
<path class="b" d="M506 452.6 L513.5 452 Q517.5 456 516.8 462 Q516 467.5 512.5 469.8 L506.5 469.8 Z"/>
<g stroke="#fff" stroke-width="0.8"><path d="M506.5 455.5 l9 -0.5 M506.5 458.5 l10 -0.3 M506.5 461.5 l10 0 M506.5 464.5 l9.5 0.2 M507 467.3 l7.5 0.3"/></g>
<ellipse style="stroke-width:1.5" class="w" cx="502.3" cy="461.2" rx="4.8" ry="8.8"/>
<path class="k" d="M503.5 457 v7"/><circle class="b" cx="505" cy="461" r="0.8"/>
<path class="ld" d="M485.8 477.5 V483.7 H510 V473.7 M498 483.7 V489.1"/>
</g>
<g id="p12"><ellipse style="stroke-width:2" class="w" cx="529.4" cy="456.800" rx="6" ry="11.800"/><ellipse style="stroke-width:1.1" class="k" cx="529.4" cy="456.800" rx="3.3" ry="7"/><path class="ld" d="M528.5 441.500 v3"/></g>
<g id="p60">
<path d="M543 448.500 L560.500 446" stroke="#000" stroke-width="5" stroke-linecap="round" fill="none"/>
<path d="M545 447.600 L559.500 445.500" stroke="#fff" stroke-width="0.700" stroke-dasharray="1 1.500" fill="none"/>
<ellipse style="stroke-width:1.800" class="w" cx="540.200" cy="448.400" rx="3.300" ry="3.900"/>
<path class="ld" d="M550.7 433 V442.6"/>
</g>
<g id="p29"><ellipse style="stroke-width:1.900" class="w" cx="548.8" cy="492.1" rx="4.4" ry="7.4"/><ellipse class="k" cx="548.8" cy="492.1" rx="2" ry="4.2"/><ellipse style="stroke-width:1.900" class="w" cx="558.100" cy="493.500" rx="4.4" ry="7.4"/><ellipse class="k" cx="558.100" cy="493.500" rx="2" ry="4.2"/>
<path class="ld" d="M547.8 481.4 V473.6 H557.1 V485.3"/></g>
<g id="p36"><path style="stroke-width:1.500" class="k" d="M534.500 486 Q533.500 496.500 538.200 496.800 Q543 496.500 542 486 M537 487 Q536.500 493.500 538.200 493.800 Q540 493.500 539.500 487"/><path class="ld" d="M516.8 499.8 V489.1 L534.2 488.8"/></g>
<g id="p17b"><ellipse style="stroke-width:1.5" class="w" cx="540.2" cy="515.9" rx="2.9" ry="4.8"/><ellipse class="k" cx="540.2" cy="515.9" rx="1" ry="2"/><path style="stroke-width:1.2" class="ld" d="M519.7 533.7 L535.8 520.5"/></g>
<g id="p32">
<path style="stroke-width:1.5" class="w" d="M544.9 525 L552 523.1 L566.5 524.5 L571 528.5 L567 532 L562.5 533 L559 541.5 L555.5 542.4 L554 536.5 L549.5 537.5 L548.5 541 L545.5 541.5 Z"/>
<path class="k" d="M544.9 525 L552 529.5 L566.5 524.5 M552 529.5 L554 536.5 M556 530 l4 -1.5 l1 3.5"/>
<path class="ld" d="M552.6 543.4 V560"/>
</g>

<!-- 50_housing.svg -->
<g id="p804">
<!-- body back -->
<path style="stroke-width:1.5" class="w" d="M589.9 402.7 L624.7 411.5 L651.9 437.6 L653.8 443.4 Q658 452 657.7 460.9 L656.7 488 L653.8 507.3 L679 507.3 L681.9 511.2 L673.2 520.9 L611.2 530.6 L613 449 L613.1 414.4 Z"/>
<path class="k" d="M613.1 414.4 L628 417 L650.5 440 L653.8 443.4 M624.7 411.5 L628 417 M650.5 440 Q654 455 653 470 L652 488 L650 505"/>
<!-- hatch -->
<path class="b" d="M616 421.5 L632 418.5 L638 436.5 L617 440 Z"/>
<g stroke="#fff" stroke-width="0.9"><path d="M615 424.5 l20 -3.5 M615 427.8 l21 -3.7 M615 431.1 l22 -3.8 M615 434.4 l23 -4 M615 437.7 l24 -4.2"/></g>
<!-- side window -->
<path style="stroke-width:1.5" class="k" d="M622 458.5 L647 455 Q652 455.5 652 463 Q652 472 648 474.4 L624 476.5"/>
<path class="k" d="M622 461 L646 457.8 M647 455 Q644 465 648 474.4"/>
<path class="k" d="M622 481 L646 477.5 Q649 490 643 503 M622 481 V500"/>
<g style="stroke-width:1" class="t"><ellipse cx="627.5" cy="493" rx="1.2" ry="2.4" transform="rotate(10 627.5 493)"/><ellipse cx="631.5" cy="492.3" rx="1.2" ry="2.4" transform="rotate(10 631.5 492.3)"/><ellipse cx="635.5" cy="491.6" rx="1.2" ry="2.4" transform="rotate(10 635.5 491.6)"/><ellipse cx="639.5" cy="490.9" rx="1.2" ry="2.4" transform="rotate(10 639.5 490.9)"/></g>
<path class="b" d="M628 482.5 h2 v2 h-2z M632.5 481.8 h1.6 v2 h-1.6z M636 481.2 h1.2 v2 h-1.2z M640 480.6 h1.8 v2 h-1.8z"/>
<!-- base -->
<path class="k" d="M613.1 515.1 L675 508.2 M617 522 L672 514"/>
<path style="stroke-width:1.4" class="w" d="M640 507 Q643 504.5 646 505.5 L651.9 513 Q651 516.5 647 516 Q640 515 640 507 Z"/>
<path class="k" d="M649.5 503.5 l2.5 5 M647 500 L654 506"/>
<ellipse style="stroke-width:1.3" class="k" cx="623" cy="511" rx="2.8" ry="3.6"/>
<!-- front face -->
<path style="stroke-width:1.6" class="w" d="M566.6 407.6 L589.9 402.7 L613.1 414.4 L613.1 449.2 Q619 459 620.9 468.6 Q622 483 619.9 495.7 Q617 507 613.1 515.1 L609.2 526.7 L611.2 538.3 Q606 543 599.6 544.2 L584.1 542.2 Q581 535 580.2 526.7 L574.4 513.2 L566.6 497.7 Q562 488 560.8 478.3 L560.8 457 Q562 449 565.7 443.4 L565.7 412.4 Z"/>
<path style="stroke-width:1" class="k" d="M569.5 411.5 L589.5 407.2 L609.5 417.3 L609.5 450 Q615 460 617 469 Q618 483 616 495 Q613 506 609.5 513.5 L603 521 L583 523.5 L578 512 L570.5 497 Q565.5 487 564.5 478 L564.5 458 Q565.5 450.5 569.5 445 Z"/>
<path style="stroke-width:0.9" class="k" d="M566.6 407.6 L569.5 411.5 M613.1 414.4 L609.5 417.3"/>
<!-- interior -->
<path class="k" d="M596 424 Q607 418 609.5 420 M596 424 Q591 436 594.5 449 Q598 463 607.5 470 M600 426 Q596 437 599 447.5 M594.5 455 Q600 472 609 481.5 M598.5 455.5 Q603 468 610.5 476 M595 462.5 L570 464 M595 462.5 L601.5 470 L581 472 L574 465.5 M597 490 Q596 500 600 507 M580 526 L603 521 M585 531 l8 6 l9 -2 l4 -9"/>
<g style="stroke-width:1.3" class="w"><path d="M576 424.2 L590.5 423.5 L590.8 428.9 L576.3 429.4 Z"/><ellipse cx="576.2" cy="426.8" rx="1.6" ry="2.7"/>
<path d="M586 443 L609 442.2 L609.5 451.5 L586.5 452.2 Z"/><ellipse cx="608.5" cy="446.8" rx="2.5" ry="4.7"/>
<path d="M590 486.5 L609 486 L609.5 495.2 L590.5 495.8 Z"/><ellipse cx="608.7" cy="490.6" rx="2.5" ry="4.7"/><ellipse cx="590.3" cy="491.2" rx="2.2" ry="4.6"/>
<path d="M592 504.6 L597 504.4 L597.3 511 L592.3 511.2 Z"/></g>
<ellipse class="b" cx="586.3" cy="447.6" rx="2.4" ry="4.6"/><ellipse cx="586" cy="447.4" rx="1" ry="2.2" fill="#fff"/>
<ellipse class="b" cx="592.2" cy="507.9" rx="2" ry="3.4"/><ellipse cx="592" cy="507.8" rx="0.8" ry="1.6" fill="#fff"/>
<ellipse class="k" cx="605.5" cy="534.5" rx="2.6" ry="3.4"/>
<g style="stroke-width:1" class="k"><circle cx="569" cy="410.8" r="1.1"/><circle cx="587" cy="406.6" r="1.1"/><circle cx="610.8" cy="416" r="1.1"/><circle cx="563.2" cy="467.5" r="1.1"/><circle cx="610.5" cy="451.5" r="1.1"/><circle cx="578.5" cy="514.5" r="1.1"/><circle cx="602" cy="521.5" r="1.1"/><circle cx="618" cy="414.5" r="1.1"/></g>
<path class="ld" d="M590.4 545 V552"/>
<path style="stroke-width:1.200" class="ld" d="M556 453.600 L584 449.600 M556 512.900 L590 508"/>
</g>
<g id="p34a">
<path class="ld" d="M622.8 544.2 V536.4 H638.3"/>
<path style="stroke-width:1.3" class="w" d="M640 533 L648 532.5 L650 539 L642 539.8 Z"/><ellipse style="stroke-width:1.3" class="w" cx="640.5" cy="536.4" rx="1.8" ry="3.4"/>
<path d="M652.5 538 L661 540.5" stroke="#000" stroke-width="5.4" stroke-dasharray="2.200 0.350" fill="none"/>
</g>
<g id="p35">
<path style="stroke-width:1.3" class="w" d="M642.5 547 L672 552.5 L672 557.5 L642.5 551.5 Z"/><ellipse style="stroke-width:1.2" class="w" cx="642.8" cy="549.2" rx="1.4" ry="2.3"/>
<path style="stroke-width:1.5" class="w" d="M671.6 540 Q672 535.5 677 535.7 L685 536.8 Q689.5 537.5 689.5 542 L689.5 560.5 Q689 565 684 564.5 L676 563.5 Q671.6 563 671.6 558 Z"/>
<path class="k" d="M684.5 538 Q682 540 682 545 L682 563.5"/>
<path class="ld" d="M690 554 H706.4"/>
</g>
<g id="p67">
<path style="stroke-width:1.6" class="w" d="M663 424.5 Q663 421.8 666 421.5 L689 419.2 Q692.3 419 692.3 422 L692.3 432.8 Q692.3 435.3 689.5 435.6 L666 437.7 Q663 437.8 663 435 Z"/>
<path class="b" d="M666 426 l2.5 -2.5 v3.5 z M671 425.5 l2.5 -2.5 v3.5z M677.5 425 l2.5 -2.5 v3.5 z M684.5 424 h1.5 v3 h-1.5z M666 432.5 h2.5 v3 h-2.5z M672 431.5 h1.5 v3 h-1.5z M679 431 h1.5 v3 h-1.5z"/>
<path class="t" d="M668.5 427 v5 M673.5 426.5 v5 M680 426 v5"/><circle class="t" cx="687" cy="432" r="1.2"/>
<path class="ld" d="M673.8 406 V419"/>
</g>
<g id="axis2"><path style="stroke-width:1.3" class="ld" d="M660.5 462.7 L667 461.5 M684 459 L689 458 M703 455 L706 454.5 M747 448.5 L753 447.5 M765 445.5 L773 444"/></g>
<g id="p5"><ellipse style="stroke-width:1.8" class="w" cx="674.4" cy="460.2" rx="8.3" ry="13.7" transform="rotate(-5 674.4 460.2)"/><ellipse style="stroke-width:1.6" class="k" cx="674" cy="460.2" rx="4.4" ry="7.8"/><path class="k" d="M670 461 l6 -1 M673.5 455 v10"/><path style="stroke-width:1.2" class="ld" d="M656.3 417 L668.3 447.5"/></g>
<g id="p6"><ellipse style="stroke-width:1.8" class="w" cx="695.5" cy="456.2" rx="8" ry="14.8" transform="rotate(-5 695.5 456.2)"/><ellipse style="stroke-width:1.8" class="k" cx="695.5" cy="456.2" rx="4.8" ry="9.1"/><ellipse class="t" cx="695.5" cy="456.2" rx="3" ry="6.2"/><path class="k" d="M692 457 l7 -1"/><path class="ld" d="M695.5 410.5 V440"/></g>
<g id="p9"><path style="stroke-width:1.5" class="w" d="M709.7 446.2 L719 444.5 Q722 448 721.7 454 Q721.5 460 719 462.5 L709.7 462.8 Z"/><ellipse style="stroke-width:1.6" class="w" cx="709.7" cy="454.5" rx="3.9" ry="8.3"/><ellipse class="k" cx="709.7" cy="454.5" rx="2.2" ry="5.2"/><path class="ld" d="M711.9 405 V443.2"/></g>
<g id="p7"><path style="stroke-width:1.6" class="w" d="M732.6 435.5 L741 434.5 Q747 438 746.7 449 Q746.5 459.5 741 463.5 L732.6 463.9 Z"/><ellipse style="stroke-width:1.7" class="w" cx="732.6" cy="449.7" rx="8.7" ry="14.2"/><ellipse class="k" cx="732.6" cy="449.7" rx="5.8" ry="10"/><ellipse class="k" cx="732.6" cy="449.7" rx="2.4" ry="4.2"/>
<g class="b"><circle cx="732.6" cy="442" r="1"/><circle cx="732.6" cy="457.5" r="1"/><circle cx="729" cy="445" r="1"/><circle cx="729" cy="454.5" r="1"/><circle cx="736" cy="445" r="1"/><circle cx="736" cy="454.5" r="1"/><circle cx="728.2" cy="449.7" r="1"/><circle cx="737" cy="449.7" r="1"/></g>
<path class="ld" d="M731.9 401.8 V433.4"/></g>
<g id="p8"><path style="stroke-width:1.3;fill:#fff" class="k" d="M756.5 435.5 Q752.5 437 752.6 447 Q753 457.5 758.7 458.4 Q765 457.5 764.8 446 Q764.5 437 761.5 435.8 L761.2 439 Q762.5 441 762.4 446.5 Q762.3 454.5 758.7 455.2 Q755 454.5 754.9 447 Q754.9 440.5 756.8 438.5 Z"/><path class="ld" d="M758 396.3 V433.4"/></g>
<g id="p170">
<path style="stroke-width:1.200" class="w" d="M812.6 411.5 L821.8 411.5 L822.9 411.7 L813.9 411.7 L815.9 412.5 L825.4 412.6 L826.5 413.3 L817.1 413.3 L819.0 415.0 L828.8 415.1 L829.8 416.2 L820.1 416.2 L821.7 418.7 L831.8 419.0 L832.6 420.4 L822.5 420.4 L823.8 423.5 L834.1 423.9 L834.7 425.6 L824.4 425.6 L825.2 429.1 L835.7 429.6 L836.0 431.6 L825.6 431.4 L825.9 435.2 L836.4 435.8 L836.5 437.9 L826.0 437.6 L825.8 441.4 L836.3 442.2 L836.1 444.2 L825.6 443.7 L824.9 447.4 L835.3 448.3 L834.8 450.1 L824.4 449.6 L823.3 452.8 L833.5 453.8 L832.7 455.4 L822.5 454.7 L821.0 457.4 L830.9 458.4 L830.0 459.6 L820.0 458.8 L818.2 460.8 L827.8 461.8 L826.7 462.6 L817.0 461.8 L815.1 462.9 L824.3 463.9 L823.1 464.3 L813.8 463.3"/>
<ellipse style="stroke-width:1.7" class="w" cx="807.7" cy="436.6" rx="14.2" ry="27.2" transform="rotate(-4 807.7 436.6)"/>
<ellipse style="stroke-width:1.5" class="w" cx="805.5" cy="436.8" rx="13.5" ry="26.8" transform="rotate(-4 805.5 436.8)"/>
<ellipse class="t" cx="806" cy="437" rx="7.5" ry="15.5" transform="rotate(-4 806 437)"/><ellipse class="t" cx="806" cy="437.5" rx="4.5" ry="9.5"/>
<path style="stroke-width:1.2" class="w" d="M795 438 L805 436.3 L805.5 444 L796 446 Z"/>
<path class="b" d="M775 440 L796 436.5 L797 446.5 L776.5 447 L772.9 443.5 Z"/>
<g stroke="#fff" stroke-width="0.9"><path d="M776 442 L796 439 M775.500 444.500 L796.500 442.500"/></g>
<path class="ld" d="M804.7 399.6 V409.4"/>
</g>
<g id="p102">
<path style="stroke-width:1.4" class="w" d="M886 409.3 Q893 410 896.3 414 L899 412.5 L907 411 L914 409.800 L919 411.500 L920.5 415 L920.5 429 L918 432.500 L911 434.500 L903 436.500 L897 437 L892.9 438.3 Z"/>
<path style="stroke-width:1" class="k" d="M899 412.5 V436.500 M903 412 V436 M905.500 417 H918 M905.500 421 H919 M905.500 425 H919 M905.500 429 H918 M914 410 V434 M918 411 V432"/>
<path style="stroke-width:1.6" class="w" d="M836.6 417.8 L886 409.3 Q895 417 893.5 432 L892.9 438.3 L843.4 450.2 Q833 448 830.5 436 Q830.500 422 836.6 417.8 Z"/>
<path class="k" d="M843.4 450.2 Q851 444 851.5 432 Q851 421 845 416.4" />
<path style="stroke-width:1" class="k" d="M851 420 L888 412.500 M852 427 L891.500 419 M852 434 L893 425.500 M851 441 L893.500 432 M879 410.500 Q886 420 884.500 440.2"/>
<path class="k" d="M821.5 428 L830.5 427 M822 444 L831.500 442" />
<path class="ld" d="M871.4 447.8 V462.2"/>
<path style="stroke-width:1.2" class="ld" d="M921.9 417.8 L935.5 414.4"/>
</g>
<g id="p105b"><path style="stroke-width:1.5" class="w" d="M945.500 400.2 L952 400 Q958 404 957.7 413 Q957 423 951.500 427.500 L945.500 428 Z"/><ellipse style="stroke-width:1.7" class="w" cx="945.5" cy="414" rx="8.2" ry="14"/><ellipse style="stroke-width:1.5" class="k" cx="945.5" cy="414" rx="5" ry="8.800"/><ellipse class="b" cx="945.5" cy="414" rx="2.6" ry="4.600"/><ellipse cx="945.5" cy="414" rx="1" ry="2" fill="#fff"/><path class="ld" d="M947.8 430.8 V446.8"/></g>
<g id="p104"><ellipse style="stroke-width:1.6" class="w" cx="968.3" cy="409.3" rx="4.3" ry="9.2"/><ellipse style="stroke-width:1.3" class="k" cx="968.3" cy="409.3" rx="1.800" ry="4.6"/><path style="stroke-width:1.2" class="ld" d="M970.7 423.9 V429.7 M957.500 411.500 L964 410.500 M972.500 408.600 L977.500 407.800"/></g>
<g id="p103"><ellipse style="stroke-width:1.8" class="w" cx="983.3" cy="406.9" rx="5.8" ry="10.2"/><ellipse style="stroke-width:1.2" class="k" cx="983.3" cy="406.9" rx="3.2" ry="6.600"/><path style="stroke-width:1.2" class="ld" d="M988.4 399 L1022.6 400 M991.9 405.2 L1003.8 403.1"/></g>
<g id="p812">
<path style="stroke-width:1.5" class="w" d="M679.2 499.8 L701 488.9 L697.7 476.9 L701 476.9 Q708 483.500 716.2 486.7 L731.5 484.6 L747.8 481.3 Q752.2 481.500 752.2 484.6 L752.2 493.3 L731.5 500.9 L716.2 497.6 L696.6 504.2 L681.4 502 Z"/>
<path class="k" d="M701 488.9 L716.2 486.7 M731.5 484.6 Q728 489 731.5 500.9 M716.2 486.7 Q720 492 716.2 497.6 M734 488 L749 484.500"/>
<path style="stroke-width:1.1" class="k" d="M694 495.500 L712 490.500 L716 492.500 L698 498 Z M697 495.800 L711 492"/>
<path style="stroke-width:1.7" class="ld" d="M754.4 486.7 H801.2 V505.2 H792.5 M801.2 496.5 H808.8"/>
</g>
<g id="p62"><path style="stroke-width:1.5" class="w" d="M733.800 505 L738 501.200 L745.500 501 L749 504.200 L748.800 508.500 L744.500 511 L737.500 511 L734 508.200 Z"/><ellipse class="k" cx="741.5" cy="505" rx="3.6" ry="2"/><path class="k" d="M734 505.500 L737.800 508 L744.800 508 L749 504.500 M737.800 508 v3 M744.800 508 v3"/><path class="ld" d="M751.1 505.9 H770.7"/></g>
<g id="p34b">
<path style="stroke-width:1.3" class="w" d="M696.5 518.5 L703.500 519 L704 523.800 L697 523.600 Z"/><ellipse style="stroke-width:1.2" class="w" cx="696.500" cy="521" rx="1.500" ry="2.600"/>
<path d="M706.400 524.200 L714.100 525.500" stroke="#000" stroke-width="4.200" stroke-dasharray="2.200 0.350" fill="none"/>
<path style="stroke-width:1.300" class="ld" d="M704.3 519 L755.4 518.5 M715.1 524.2 H746.1 V519.4"/>
</g>
<g id="p37">
<path style="stroke-width:1.300" class="k" d="M667.2 502.400 L682.5 508.5 L680.3 521.6 L711.9 532.5 M683 520.500 L713 529.500"/>
<path style="stroke-width:1.600" class="w" d="M711.9 531 Q713 528.500 716 528.100 L727 528.400 Q733 530 734.7 534.500 L730 537.900 L716 537.900 Q712 537 711.9 531 Z"/>
<path class="k" d="M716 537.900 L718 534 L734.7 534.500 M727 532.500 l1 -1.500 l1 1.500 z"/>
<path class="ld" d="M735.8 533.6 L778.3 534.2"/>
</g>
<g id="p38"><circle style="stroke-width:1.600" class="w" cx="667.2" cy="502.400" r="2.600"/><path style="stroke-width:1.200" class="ld" d="M667.2 491 V497.6 M659.500 501.500 h3"/></g>

<!-- 60_right.svg -->
<g id="p115">
<path style="stroke-width:1.100" class="k" d="M630 199.500 L639 199 M635.600 211.600 L642 207.200"/>
<path style="stroke-width:3.200" class="k" d="M639 199 L666.500 194.500 M642 207.200 L655 200.500 L667 197.500"/>
<path d="M640 198.900 L666.500 194.500 M643 206.700 L655 200.500 L667 197.500" stroke="#fff" stroke-width="1.200" fill="none"/>
<path style="stroke:none" class="w" d="M665.4 192 L804 170 L804 178.7 L666 199.3 Z"/>
<path style="stroke-width:1.5" class="k" d="M665.4 192 L804 170 M666 199.3 L804 178.7 M665.4 192 L671 198.500"/>
<path class="ld" d="M750.5 167.5 V177.2"/>
<!-- plug -->
<ellipse style="stroke-width:1.6" class="w" cx="852.2" cy="165.6" rx="14.2" ry="20.3"/>
<path class="k" d="M846 147.500 V184 M850.500 145.500 Q859 155 860 166 Q859.500 178 852 185.800 M858 147.500 Q866 156 866 166 Q865.500 176 858.500 184"/>
<path style="stroke-width:1.3" class="w" d="M865 163.300 L888 160.800 Q890.500 162.300 888.500 164.300 L865.500 166.800 Z"/>
<path style="stroke-width:1.3" class="w" d="M866.4 155.200 L874.500 156.500 Q876.200 158 874.500 159.300 L866.800 158.500 Z"/>
<path style="stroke-width:1.5" class="w" d="M812.7 162 L816 159.500 L843 157.600 L860 171.200 L860.6 174.500 L833 180.100 L818 178.500 Z"/>
<path class="k" d="M812.7 162 L834 166.500 L860 171.200 M834 166.500 L833 180.100 M816 159.500 L836 163.500 L843 157.600"/>
<path style="stroke-width:1.5" class="w" d="M796.7 170 L801 166.500 L812 163.400 L833 166.600 L833 180.100 L806 181 L797 179.500 Z"/>
<g class="b"><path d="M799 168.500 l4 -1.500 v4 l-4 1 z M806.500 169 l2.500 -3 l2 0.500 l-1 9 l-3 0.500 z M813.500 167.500 l2.500 -2.500 l2 0.500 l-1 9 l-3 0.500 z M820.500 168 l2.500 -2.500 l2 0.500 l-1 8.500 l-3 0.500 z M827.500 169 l2 -2 l1.500 0.500 l-0.500 7.500 l-2.500 0.500 z M803 176.500 h4 v3.500 h-4z M810 176.500 h3.500 v3.500 h-3.500z M817 176.500 h3.500 v3.500 h-3.500z M824 176 h3.500 v3.500 h-3.500z"/></g>
</g>
<g id="p145ld"><path class="ld" d="M793 215.7 H801.8"/><path class="ld" d="M779.1 245 V256"/></g>
<g id="p124">
<path style="stroke-width:1.6" class="w" d="M900 232.7 L995.6 218.2 Q1004 222 1010.1 231.5 Q1015 238 1015 246 L1013.7 272.6 Q1011 283 1005.3 288.4 L998 292 L898.7 312.6 Q879 300 879 272 Q880 242 900 232.7 Z"/>
<path style="stroke-width:1.400" class="w" d="M914.5 229 L917.500 217 L924 215.700 L929 219 L930 228 Z"/><circle class="k" cx="920" cy="223" r="1.5"/>
<path style="stroke-width:1.400" class="w" d="M944.7 237 L947.500 227 L953.500 225.400 L958 229 L961.7 240 L957 241.200 Z"/><circle class="k" cx="949.500" cy="232" r="1.5"/><path class="k" d="M953.500 225.400 L955.500 240"/>
<path style="stroke-width:1.2" class="k" d="M902 236.500 Q886 246 885.500 272 Q886 299 901.500 310 M906 239 Q890 248 890 272 Q890.500 296 905 307.500"/>
<path class="k" d="M900 232.700 Q908 234 911 238 M898.700 312.600 L915.500 309.500 L915.500 305"/>
<path class="k" d="M918.100 248.400 L1007.700 240 M918.100 248.400 Q914 252 916 262 L918.100 304.100 L998 287.500 M918.100 248.400 L922 244 L950 240 M930 244.500 l16 -2.500 l0.500 -3 l-15 2.300 z M922 244 L925 236 Q935 231 944.700 233"/>
<path style="stroke:#444" class="t" d="M923 257 Q923.500 253 928 252.500 L982 247.500 Q988.300 247.500 988.300 254 L988.300 280 Q988 286.500 982 287.500 L929 296.500 Q923.500 297 923.300 292 Z"/>
<path style="stroke-width:1.100" class="k" d="M1012.500 243.600 l-3.500 1.500 l3.800 2.500 l-3.800 2 l3.800 2.500 l-3.800 2 l3.800 2.500 l-3.800 2 l3.500 2.500 l-3.800 2 l3.500 2.500 l-3.800 2 l3.200 2.500 l-3.800 2 l3 2.500 l-3.800 2 l2.500 2.500 l-3.500 2 l2 2.500 l-3 2"/>
<path class="ld" d="M957.6 204 V221.8"/>
</g>
<g id="p125">
<path d="M1023 254 L1038 251.500" stroke="#000" stroke-width="2.600" stroke-dasharray="2.200 0.350" fill="none"/>
<ellipse style="stroke-width:1.400" class="w" cx="1040.800" cy="251.300" rx="2.600" ry="4"/>
<path class="ld" d="M1047.6 251.6 H1053.7"/>
</g>
<g id="p134">
<path style="stroke-width:1.500" class="w" d="M959.3 330 Q959.500 326 963 325.200 L1024.6 312.6 L1024.6 353.7 L964.1 363.4 Q959.500 362.500 959.300 357.400 Z"/>
<path style="stroke-width:1.100" class="k" d="M960.5 334.4 L1024.6 324.7"/>
<text style="font-size:9.500;font-weight:bold" class="s" x="968" y="332" transform="rotate(-8.500 968 332)" textLength="34" lengthAdjust="spacingAndGlyphs">BOSCH</text>
<text style="font-size:6;font-weight:bold" class="s" x="963" y="341.800" transform="rotate(-4 963 341.800)" textLength="29" lengthAdjust="spacingAndGlyphs">Material</text>
<path class="ld" d="M1007 357.4 V370.7"/>
</g>
<g id="p135">
<path style="stroke-width:1.600" class="w" d="M854.3 342.3 L915.1 331.4 Q919.500 331.500 920.2 335.500 L920.2 365.5 L854.3 380.9 Z"/>
<path style="stroke-width:1.100" class="k" d="M855.3 351.9 L920.2 340.6"/>
<text style="font-size:9.500;font-weight:bold" class="s" x="867" y="348.500" transform="rotate(-9.500 867 348.500)" textLength="34" lengthAdjust="spacingAndGlyphs">BOSCH</text>
<text style="font-size:6.500;font-weight:bold" class="s" x="859.500" y="360" transform="rotate(-9.500 859.500 360)" textLength="22" lengthAdjust="spacingAndGlyphs">1581. 7</text>
<text style="font-size:6.500;font-weight:bold" class="s" x="897" y="353.500" transform="rotate(-9.500 897 353.500)" textLength="22" lengthAdjust="spacingAndGlyphs">500W</text>
<path class="ld" d="M840 364.5 L852 364.300"/>
</g>

<!-- 70_switchparts.svg -->
<g id="p114a">
<path class="ld" d="M553 237.400 H580"/>
<path style="stroke-width:1.500" class="k" d="M581.800 235.300 Q580 233 583 232 L587 236 Q588 239 591 240"/>
<circle class="b" cx="596" cy="236.300" r="6"/><circle cx="596.500" cy="236" r="2" fill="#fff"/><path d="M596 235 l1 2" stroke="#000" stroke-width="0.800"/>
<path style="stroke-width:1.100" class="ld" d="M602.5 238.500 L617.800 242.900"/>
</g>
<g id="p110a">
<path style="stroke-width:1.600" class="w" d="M619 244.500 L624 241 L640 240.700 L643 243.500 L643 250 L660.300 249.500 L660.300 257 L648 258.500 L642 266.500 L636 267 L623 262 L618.900 258 Z"/>
<path class="b" d="M624 241 L640 240.700 L643 243.500 L627 244.500 Z M630 246 a3 3.300 0 1 0 0.100 0 Z M619.500 255 l5 1 l0 5 l-5 -2z M636 258.500 L648 256.500 L648 258.500 L642 266.500 L637 266 Z"/>
<path class="k" d="M619 244.500 L627 244.500 L627 262.500 M627 252 L643 250 M630 262 L636 258.500"/>
<circle cx="630" cy="249.300" r="1.200" fill="#fff"/><circle cx="631" cy="259" r="0.900" fill="#000"/><circle cx="634" cy="258.500" r="0.900"/>
<path class="ld" d="M610.1 268 L623.2 264.7"/>
</g>
<g id="p111a">
<path d="M700 237.500 L706 235.500" stroke="#000" stroke-width="2.800" stroke-dasharray="2.200 0.350" fill="none"/><circle style="stroke-width:1.500" class="w" cx="708" cy="234.800" r="2.200"/>
<path d="M695.500 247 L701.500 245" stroke="#000" stroke-width="2.800" stroke-dasharray="2.200 0.350" fill="none"/><circle style="stroke-width:1.500" class="w" cx="703.500" cy="244.300" r="2.200"/>
<path class="ld" d="M710.4 240.7 L724.6 241.100"/>
</g>
<g id="conn1">
<rect style="stroke-width:1.100" class="wt" x="644.500" y="237.500" width="9.500" height="3.400" rx="1.500" transform="rotate(-8 644.500 237.500)"/><path class="b" d="M650 237.200 l3 -0.400 l0.400 2.800 l-3 0.400z"/>
<rect class="b" x="670" y="251.500" width="7" height="3.600" rx="1.600" transform="rotate(-6 670 251.500)"/>
</g>
<g id="p112a">
<path class="t" d="M633 268 V272 M633 274 V279 M633 299.600 V304 M633 306 V313"/>
<path style="stroke-width:1.600" class="w" d="M627.6 282.500 L630.500 280 L640 280.500 L640.700 283 L640.700 296 L638 297.400 L628 296.800 Z"/>
<path class="k" d="M627.6 282.500 L637.500 283.200 L640.700 283 M637.500 283.200 L638 297.400 M635 284 V296"/>
<path class="ld" d="M659.8 273.4 V286.5"/>
<path style="stroke-width:0.900;stroke:#555" class="wt" d="M646.100 290 L664.600 287 Q669.500 287.500 670 291 L670.500 295.500 L668.500 295.700 L668 292 Q667.500 290 664.800 290.200 L646.500 292.800 Z"/>
<path style="stroke-width:1" class="k" d="M668 296 l4 4 M672 296 l-4 4"/>
</g>
<g id="p137a">
<rect class="b" x="672.300" y="290.500" width="18" height="8.500" rx="3.500" transform="rotate(-6 681 294.500)"/>
<path d="M677 292 q-1.500 3 0 6 M680.500 291.500 q-1.500 3 0 6 M684 291.200 q-1.500 3 0 6" stroke="#fff" stroke-width="0.800" fill="none"/>
<path style="stroke-width:1" class="k" d="M689 296 l4 3 M693 295 l-3 4"/>
</g>
<g id="pins2">
<g style="stroke-width:1" class="wt"><rect x="601.500" y="295.500" width="9" height="4.600" rx="2.200" transform="rotate(-8 601.500 295.500)"/><rect x="610" y="295" width="15" height="2.600" rx="1" transform="rotate(-8 610 295)"/></g>
</g>
<g id="p137b">
<rect class="b" x="674.400" y="322.800" width="18.500" height="8.400" rx="3.500" transform="rotate(-5 683 327)"/>
<path d="M679 324.500 q-1.500 3 0 6 M682.500 324.200 q-1.500 3 0 6 M686 323.900 q-1.500 3 0 6" stroke="#fff" stroke-width="0.800" fill="none"/>
<path class="ld" d="M694 325.300 L712.6 326.200"/>
</g>
<g id="p112b">
<path class="t" d="M633 318 V324 M633 326 V332 M633 351.500 V356 M633 357.500 V361"/>
<path style="stroke-width:1.600" class="w" d="M627.6 336 L630.500 333.400 L639 333.900 L639.600 336.500 L639.600 349.500 L637 350.800 L628 350.300 Z"/>
<path class="k" d="M627.6 336 L636.500 336.700 L639.600 336.500 M636.500 336.700 L637 350.800 M634 337.500 V349.500"/>
<rect class="b" x="605" y="347" width="7" height="3.600" rx="1.500" transform="rotate(-6 605 347)"/><path style="stroke-width:1.800" class="k" d="M612 348 l11 -1.300"/>
</g>
<g id="p110b">
<path style="stroke-width:1.600" class="w" d="M619 364.500 L624 361 L640 360.600 L643 363.500 L643 368 L650 367 L653.700 369 L653 371.500 L645 373 L646 381 L640 384.600 L624 383.500 L618.900 379 Z"/>
<path class="b" d="M624 361 L640 360.600 L643 363.500 L627 364.500 Z M619.500 366 l4 0.500 v4 l-4 -0.500z M619.500 374 l4 0.500 v4 l-4 -0.500z M640 373 l5 -0.800 l1 8.800 l-6 3.600 z M636 377 a2.500 2.500 0 1 0 0.100 0z"/>
<path class="k" d="M627 364.500 L627 383.500 M627 372 L643 370 M643 368 L643 376"/>
<circle cx="630" cy="368" r="0.900"/><circle cx="634" cy="367.500" r="0.900"/><circle cx="630" cy="377" r="0.900"/><circle cx="634" cy="376.500" r="0.900" /><circle cx="630" cy="381" r="0.900"/>
<path class="ld" d="M592.7 377 L617.8 371.5"/>
<path style="stroke-width:1.300" class="k" d="M646 368.500 L650 363.500 L653 365 L651 369"/>
</g>
<g id="p114b">
<path style="stroke-width:1" class="ld" d="M655 374 L668 376.500"/>
<circle class="b" cx="676.600" cy="375.900" r="6"/><circle cx="677.200" cy="375.600" r="2.200" fill="#fff"/><path d="M676.600 374.600 l1 2" stroke="#000" stroke-width="0.800"/>
<path style="stroke-width:1.500" class="k" d="M671 373 Q667 368 670 366 L675 369.500"/>
<rect class="b" x="655" y="377.500" width="7" height="3.400" rx="1.500" transform="rotate(-6 655 377.500)"/><path style="stroke-width:1.800" class="k" d="M662 378.500 l9 -1.300"/>
<path class="ld" d="M683.2 378 L718 380.200"/>
</g>
<g id="p111b">
<path d="M695 358.500 L701 357" stroke="#000" stroke-width="2.800" stroke-dasharray="2.200 0.350" fill="none"/><circle style="stroke-width:1.500" class="w" cx="703.500" cy="356.500" r="2.200"/>
<path d="M689.500 366 L695.500 364.500" stroke="#000" stroke-width="2.800" stroke-dasharray="2.200 0.350" fill="none"/><circle style="stroke-width:1.500" class="w" cx="698" cy="364" r="2.200"/>
<path class="ld" d="M709.3 348.600 L703.900 355.100"/>
<rect class="b" x="667.500" y="363.800" width="7" height="3.400" rx="1.500" transform="rotate(-6 667.500 363.800)"/>
</g>
<g id="p140">
<path style="stroke-width:1.600" class="w" d="M701.700 305 L712 297 L726 294.100 L732.200 300 L728 312 L716 320.300 L706 316 Z"/>
<path class="k" d="M701.700 305 L711 309.500 L728 302 M711 309.500 L716 320.300 M712 297 L716 302 M716 305 l8 -3.500 M714.500 312.500 l10 -5"/>
<path class="b" d="M716 300 l6 -2 l2 3 l-6 2.500 z M719 308 l6 -3 l1 2 l-6 3z"/>
<path style="stroke-width:1.500" class="k" d="M706 322 L733 303 M714 300 L728 318 M710 323 L724 312"/>
<path style="stroke-width:1.500" class="k" d="M724 296 L728 289 L735 291 M735.600 293.700 L730 293 L726 297"/>
<path class="ld" d="M699.500 314.800 H705"/>
</g>
<g id="conn3">
<path style="stroke-width:2.200" class="k" d="M736.600 283.200 L742 278.500 L748 280 L751 284"/>
<path style="stroke-width:2.200" class="k" d="M751.800 273.400 L756.500 270 L763 272 L769 274.300"/>
</g>
<g id="p139">
<path d="M735 311.500 L741 310.500" stroke="#000" stroke-width="3.400" stroke-dasharray="2.200 0.350" fill="none"/>
<circle style="stroke-width:1.400" class="w" cx="742.500" cy="308" r="2.400"/><circle style="stroke-width:1.400" class="w" cx="742.500" cy="313" r="2.400"/><circle style="stroke-width:1.400" class="w" cx="740" cy="310.500" r="2.400"/>
<path style="stroke-width:1.200" class="ld" d="M743.800 323.900 L754 347.200"/><path class="t" d="M741.500 316 l1.500 5"/>
</g>
<g id="p121">
<path style="stroke-width:1.200" class="ld" d="M803.400 295.600 L814.3 288.300"/>
<path style="stroke-width:1.600" class="w" d="M763.400 305.800 L808.500 300 Q815 301 815.700 306.500 L815.700 316.700 L776.500 322.500 Q768 323.500 762 318 Q757.500 312 763.400 305.800 Z"/>
<path class="k" d="M763.400 305.800 Q772 305 777 311 Q781 317 776.500 322.500"/>
<path style="stroke-width:1.300" class="w" d="M786.500 302 L789 299.300 L806 297.300 L808.500 300 L808 303 L789 305.500 Z"/>
<path class="b" d="M789 299.300 L806 297.300 L807 298.500 L790 300.600 Z"/>
<path style="stroke-width:1.300" class="w" d="M802 311.500 Q802 310 804 309.800 L820 308.200 L820 312.500 L804 314.500 Q802 314.500 802 311.500 Z"/>
</g>

<!-- 80_base.svg -->
<g id="p810">
<path style="stroke-width:1.300" class="k" d="M689.6 577.8 L695.4 578.7 L720.6 597.1 L720.6 606.8 L670.2 618.4 L670.2 622.3"/>
<path style="stroke-width:1.500" class="w" d="M533.7 606.8 L546.3 602.9 L618 591.3 L621.8 583.6 L633.5 581.6 L658.6 575.8 L678 573.9 Q684 574.500 685.7 577.8 L689.6 584.5 L689.6 594.2 L709 596.2 L713.8 598.1 L710.9 602 L592.8 621.3 L575.4 621.3 L564.7 615.5 L575 612.500 L545 612.500 Z"/>
<path style="stroke-width:2.800" class="h" d="M546.3 603.500 L617 592.200 M560 607.500 L616 598.200 M573 618.500 L709 597.500 M566 612.500 L636 601.500"/>
<path style="stroke-width:1.200" class="k" d="M540 608.500 L552 606 M548 611.500 L575 607.500 M569 616.500 L582 614.500 M590 617.500 L710 599.500 M640 605.500 L690 597.500"/>
<path style="stroke-width:1.500" class="w" d="M618.9 597.1 Q620 588 627.6 584.5 Q634 585 637.3 590.4 L639.3 603.9 L689.6 594.2 L689.6 584.5 L685.7 577.8 Q684 574.500 678 573.9 L658.6 575.8 L633.5 581.6 L621.8 583.6 L618 591.3 Z"/>
<path style="stroke-width:0.900;stroke:#555" class="k" d="M622 596.500 Q623 589.500 628 587.500 Q633 588 635 592.500 L636.500 602"/>
<path class="k" d="M657 580.500 l6 -1.200 l1.500 3.500 l-6 1.200 z M660 577 l3 5 M678 574 l1.500 3.500 l3 -0.500 l0.500 2.500 M683.500 590 l1.500 -0.300 v2"/>
<path style="stroke-width:1.300" class="k" d="M560 605 Q570 611 580 605 M600 606 L612 612 M610 603 l20 -3.500 l4 3 l-20 3.500 z"/>
<path class="b" d="M555 604.500 Q568 612 582 603.500 L584 605.500 Q569 615 554 607 Z"/>
<path class="ld" d="M552.7 614.6 V632.6"/>
</g>
<g id="p64">
<path style="stroke-width:1.300" class="w" d="M652.8 627.1 L678 622.3 L687.7 626.2 L663.5 631 Z"/>
<path class="b" d="M652.8 627.1 L678 622.3 L683 624.300 L658 629.100 Z"/>
<path class="ld" d="M622.8 628.1 H649.9"/>
</g>
<g id="p65">
<path d="M671.200 634.900 V644.600" stroke="#000" stroke-width="5" stroke-dasharray="2.200 0.350" fill="none"/>
<path class="t" d="M671.200 631 v3"/>
<path style="stroke-width:1.500" class="w" d="M664.4 645.500 Q670.700 642.500 677 645.500 L677 652.500 Q670.700 656 664.400 652.500 Z"/>
<path class="k" d="M664.400 646.500 Q670.700 649.500 677 646.500"/>
<path class="ld" d="M623.8 645.9 H663.5"/>
</g>
<g id="p68">
<path class="ld" d="M714.4 644.600 V625.2 M714.4 635.9 H729.3 V641.7"/>
<path d="M712 650 L725.400 647.500" stroke="#000" stroke-width="3.400" stroke-dasharray="2.200 0.350" fill="none"/>
<ellipse style="stroke-width:1.500" class="w" cx="709.500" cy="650.500" rx="3.600" ry="4.200"/><path style="stroke-width:0.900" class="k" d="M707.500 650.500 h4 M709.500 648.500 v4"/>
<ellipse style="stroke-width:1.500" class="w" cx="730.300" cy="646" rx="2.400" ry="4" transform="rotate(-10 730.300 646)"/><ellipse class="k" cx="730.300" cy="646" rx="0.800" ry="1.800"/>
</g>
<g id="p70">
<path style="stroke-width:1.500" class="w" d="M699.3 584.5 L700.3 576.8 Q704 571.500 710.9 570 Q718 569.500 722.5 572.9 Q727 576 728.3 580.7 L729.3 587.4 L723.5 590.4 L718.7 589.4 L716.7 581.6 Q714.500 578 710.9 577.8 Q708.500 577.500 707 578.7 L705.1 585.5 Z"/>
<path class="k" d="M700.3 576.8 Q704 574.500 707 578.700 M716 572.500 l3.500 0.800 l-0.800 2.800 l3 1.500 M722.500 587 h2 v2"/>
<path style="stroke-width:1.200" class="ld" d="M725.8 571.6 L744.7 566.5"/>
</g>
<g id="p66">
<path style="stroke-width:5.200" class="k" d="M734 578 L804.500 565 L827 572.200"/>
<path d="M734 578 L804.500 565 L827 572.200" stroke="#fff" stroke-width="2.800" fill="none" stroke-linejoin="round" stroke-linecap="round"/>
<path class="t" d="M736 578 L804.500 565.500"/>
<ellipse style="stroke-width:1.100" class="w" cx="734" cy="578" rx="1.800" ry="2.600"/>
<path class="ld" d="M822.7 551 V566.5"/>
</g>

<!-- 85_gearbox.svg -->
<g id="gearbox">
<path style="stroke-width:1.400" class="w" d="M749.5 600 L749.5 628 L759.4 628 L759.4 600 Z"/><ellipse style="stroke-width:1.400" class="w" cx="754.400" cy="600" rx="5" ry="2.300"/><ellipse class="k" cx="754.400" cy="600" rx="2.600" ry="1.100"/>
<path style="stroke-width:1.600" class="w" d="M736.6 630.7 Q738 624 741.7 621.8 L749.500 620.300 L749.500 627 L759.400 627 L759.400 621 L802.6 630.7 L803.9 663.7 L806.5 676.4 Q808.500 684 807.7 691.7 Q806.500 704 802.6 714.5 L795 724.7 L789.9 731 L772.1 729.8 L772.1 752.6 L769.6 757.7 L762 762.8 L755.6 757.7 L751.8 742.5 L748 739.9 L746.7 722.1 L741.7 712 L736.6 701.8 L735.3 640.8 Z"/>
<path class="k" d="M736.6 630.7 Q742 634.500 759.400 633.500 L786 634 L802.600 630.700 M786 634 L786.1 717.1 M759.4 633.500 V704.4 M741 636 L740.500 700 M741.700 712 Q752 706 759.400 704.400 Q775 706 786.100 717.100 L795 724.700"/>
<ellipse style="stroke-width:1.300" class="k" cx="772.9" cy="639" rx="6.4" ry="3.3"/>
<path class="b" d="M791.2 635.500 L802.6 633.2 L803 656.500 L791.500 658.500 Z"/>
<g stroke="#fff" stroke-width="0.800"><path d="M791 639 l12 -2.200 M791 642.500 l12 -2.200 M791 646 l12 -2.200 M791 649.500 l12 -2.200 M791 653 l12 -2.200 M796 634 v24"/></g>
<path style="stroke-width:1.300" class="k" d="M803.900 672.600 Q797 671.500 793 675 L792.500 712 Q796 715.500 802.600 714.500"/>
<path class="k" d="M746.700 722.100 L750 713 L757 709.500 L765 712 L768 720 L772.100 729.800 M751 716 Q757.500 712.500 764 716 L764 726 M751.800 742.500 L752 724 L758 722 L764 726 L764.500 750 M758 722 L758.500 745"/>
<path class="b" d="M755.6 748 Q762 744 768 748 L769.6 757.7 L762 762.8 L755.6 757.7 Z"/><ellipse cx="760.500" cy="753" rx="2" ry="3.500" fill="#fff"/>
<circle class="k" cx="769" cy="754.500" r="1.300"/>
<path class="k" d="M772.100 729.800 L774 735 L774 748 L782 746 L793 733 L793 727 M778 731.500 L778 741 L786 733"/>
<ellipse class="k" cx="784.9" cy="734.3" rx="1.600" ry="2.400"/>
<path style="stroke-width:1.100" class="ld" d="M772.100 745 L796.3 751.4"/>
<path style="stroke-width:1.100" class="ld" d="M739.6 736.9 L751.8 739.9"/>
</g>

<path class="ld" d="M699 686.6 H732.8"/>
<g id="p811">
<path class="ld" d="M659.8 750.1 V719.6 H683.2 V732.3 M671.3 712 V719.6"/>
<path style="stroke-width:1.600" class="w" d="M656 757 L660.500 755.200 L664 757.500 L664 761.500 L659.500 763.300 L656 761 Z"/><ellipse class="k" cx="660" cy="759.200" rx="1.500" ry="1.900"/>
<path style="stroke-width:1.100" class="ld" d="M646.300 755.200 L652.700 757 M664.200 759.700 L668 760.800"/>
<path style="stroke-width:1.500" class="w" d="M670.5 737.4 L707.3 732.3 L714.2 736.1 L685.7 742.5 L694.500 741 L694.500 768 L690.800 773 L685.700 768 L681.900 768.500 L681.900 771.500 L678 771.500 L670.500 765.500 Z"/>
<path class="k" d="M670.500 737.400 L681.900 742 L685.700 742.500 M681.900 742 V768.500 M685.700 742.500 V768 M674 740 V766 M692 741.500 V768"/>
<g style="stroke-width:1" class="k"><ellipse cx="677.500" cy="751" rx="1.200" ry="1.900"/><ellipse cx="689" cy="755" rx="1.200" ry="1.900"/><ellipse cx="677.500" cy="765" rx="1.200" ry="1.900"/><ellipse cx="689.500" cy="768" rx="1.200" ry="1.900"/><circle cx="685" cy="737.500" r="0.800"/><circle cx="700" cy="735.500" r="0.800"/></g>
<!-- roller -->
<ellipse style="stroke-width:1.600" class="w" cx="705.500" cy="771.200" rx="6" ry="8.100"/><ellipse class="b" cx="703" cy="771.700" rx="6" ry="8.100"/><ellipse cx="702.200" cy="771.700" rx="3.600" ry="5.600" fill="#fff"/><ellipse class="k" cx="702.200" cy="771.700" rx="1.500" ry="2.600"/>
<path d="M714 775.500 L729 781" stroke="#000" stroke-width="4.400" stroke-dasharray="2.200 0.350" fill="none"/><path style="stroke-width:1.200" class="w" d="M727 778 l6 2 l-1 4 l-6 -2z"/>
<path class="ld" d="M680.7 784.4 H718.8 L722.6 780.6 M700 782 V784.400"/>
</g>
<g id="p59">
<path class="ld" d="M705.6 722.1 V716.6 H736.6 V732.3 M717 709.4 V716.6"/>
<path style="stroke-width:1.100" class="ld" d="M696 723 l4 1.200"/>
<ellipse style="stroke-width:1.600" class="w" cx="704.800" cy="726" rx="2.300" ry="3.300"/>
<path style="stroke-width:3" class="k" d="M708.6 726.5 L732.8 734.9"/><path d="M710 727 L722 731.200" stroke="#fff" stroke-width="0.800"/>
<ellipse style="stroke-width:1.600" class="w" cx="737.300" cy="735.400" rx="2" ry="3.300"/>
<path class="ld" d="M724.6 736.1 V748.8"/>
</g>
<g id="p4etc">
<path style="stroke-width:1.200" class="ld" d="M789.9 611.6 L814.1 631.9 V663.7"/>
<rect style="stroke-width:1.200" class="wt" x="809" y="664.500" width="12.500" height="4.200" rx="1.800" transform="rotate(-8 809 664.500)"/>
<path class="ld" d="M824.2 620.5 V631.9"/>
<rect style="stroke-width:1.100" class="wt" x="818" y="632.800" width="11" height="3" rx="1.200" transform="rotate(-8 818 632.800)"/>
<rect class="b" x="818" y="640.800" width="11.500" height="5.600" rx="2" transform="rotate(-10 818 640.800)"/><path d="M821 641 l-0.500 5 M824 640.500 l-0.500 5 M827 640 l-0.500 5" stroke="#fff" stroke-width="0.700"/>
<path class="ld" d="M825 662.4 V672.6"/>
<rect class="b" x="819.500" y="675" width="11.500" height="5.600" rx="2" transform="rotate(-10 819.500 675)"/><path d="M822.500 675 l-0.500 5 M825.500 674.500 l-0.500 5 M828.500 674 l-0.500 5" stroke="#fff" stroke-width="0.700"/>
<rect style="stroke-width:1.100" class="wt" x="821.700" y="685" width="10.500" height="3" rx="1.200" transform="rotate(-8 821.700 685)"/>
<path class="ld" d="M826 688.9 V693 H848.6"/>
</g>
<g id="p431">
<path style="stroke-width:1.400" class="w" d="M835 627 L841.600 626.600 L841.600 685 L839.500 687.200 L838.500 683.500 L837.500 687.200 L835 685 Z"/>
<ellipse class="k" cx="838.300" cy="632" rx="0.900" ry="1.600"/><ellipse class="k" cx="838.300" cy="680" rx="0.900" ry="1.600"/>
<path style="stroke-width:1.200" class="ld" d="M839.9 624.8 L851.3 604"/>
</g>
<g id="p803">
<path style="stroke-width:1.600" class="w" d="M813.2 701.500 L817 701 L838.2 707 L838.2 716 L835 718.4 L813.2 711.500 Z"/>
<path class="k" d="M813.200 701.500 L835 708.500 L838.200 707 M835 708.500 V718.400"/>
<path style="stroke-width:1.600" class="k" d="M817.500 706 L831 710.200 L831 713.200 L817.500 709 Z"/>
<path style="stroke-width:1.600" class="w" d="M841.6 696.5 L859 701.500 L859 711.4 L841.600 706.500 Z"/>
<path style="stroke-width:1.500" class="k" d="M845.500 701 L855 703.700 L855 706.700 L845.500 704 Z"/>
<path class="ld" d="M827.8 719.4 V729.8 H848.6 V711.4 M848.600 729.800 V739.1"/>
</g>

<!-- 90_rightcol.svg -->
<g id="p53">
<path class="b" d="M882.300 540.500 Q882.300 537.500 885.900 537.500 Q889.500 537.500 889.500 540.500 L889.500 545 L887.800 546 L887.800 550.500 L884 550.500 L884 546 L882.300 545 Z"/><path d="M885 539.500 v5" stroke="#fff" stroke-width="1.200"/>
<path class="ld" d="M891.8 541.8 H907.2"/>
</g>
<g id="p171">
<path style="stroke-width:1.500" class="w" d="M877.2 555 L877.200 566 Q885.800 571.500 894.500 566 L894.500 555 Z"/><ellipse style="stroke-width:1.500" class="w" cx="885.850" cy="555" rx="8.650" ry="3.800"/><ellipse class="k" cx="885.850" cy="555.300" rx="3.500" ry="1.500"/>
<path class="b" d="M884.500 550 h2.800 v5 h-2.800z"/>
<path class="ld" d="M896.3 562.7 H907.2 M885.400 572.700 V576.300"/>
</g>
<g id="p844">
<path style="stroke-width:1.500" class="w" d="M879 578.500 L879 692 L878 694 L878 702 Q885.500 706 893 702 L893 694 L891.800 692 L891.800 578.500 Z"/>
<ellipse style="stroke-width:1.500" class="w" cx="885.400" cy="578.500" rx="6.400" ry="2.600"/><ellipse class="b" cx="885.400" cy="578.800" rx="3.600" ry="1.200"/>
<path style="stroke-width:0.900" class="k" d="M879 692 Q885.500 695.500 891.800 692 M881.500 580.500 V691"/>
<path style="stroke-width:0.800;stroke:#888" class="k" d="M885.400 694 V703"/>
<path class="ld" d="M892.7 598.7 H908.1 M908.100 593.600 V608.100"/>
</g>
<g id="p45">
<path class="ld" d="M860.3 621.7 V639.9"/>
<path style="stroke-width:1.100" class="ld" d="M876.3 654 L912.6 649.9"/>
<path style="stroke-width:1.600" class="w" d="M847.3 647 L853 642.600 L860 642.600 L875.400 647 L875.400 657 L866 661.700 L853 660 L847.300 655.500 Z"/>
<path class="k" d="M847.300 647 L853 651.500 L866 652 L875.400 647 M866 652 V661.700 M853 651.500 V660"/>
<path style="stroke-width:1.300" class="k" d="M856 644.500 Q859 642.500 862 644 Q863 646.500 860 647.500 Q856.500 647.500 856 644.500 M859 647.500 L858.500 651.500"/>
<ellipse class="k" cx="850" cy="652" rx="1.200" ry="1.800"/><ellipse class="k" cx="862" cy="656.500" rx="1.400" ry="1.800"/>
</g>
<g id="p46">
<path class="ld" d="M907.6 622.6 V630.8"/>
<path style="stroke-width:1.600" class="w" d="M893.6 636 L898 632.600 L930.800 640.500 L930.800 655 L924 659 L912 656 L906 658 L898 655 L893.600 650 Z"/>
<path style="stroke-width:1.300" class="k" d="M893.600 636 L920.500 643 L930.800 640.500 M920.500 643 L921 657.500 M898 632.600 L899 636 M902 636 l17 4.500 M903 641 l5 1.200 M911 643 l5 1.200 M907 639 V657"/>
<path style="stroke-width:1.100" class="k" d="M923 644.500 L923 654.500 L928 652 M924 645 L929 643.500"/>
<ellipse style="stroke-width:1.600" class="k" cx="901.500" cy="646.500" rx="1.700" ry="3"/><ellipse style="stroke-width:1.600" class="k" cx="913" cy="650" rx="1.700" ry="3"/>
<path class="b" d="M897 653 l8 2 v1.500 l-8 -2z M908 655 l6 1.500 v1.500 l-6 -1.500z"/>
</g>
<g id="p47">
<path class="ld" d="M934.1 626.3 V640.8"/>
<path d="M929.500 648 L940 645.800" stroke="#000" stroke-width="4.600" stroke-dasharray="2.200 0.350" fill="none"/>
<ellipse style="stroke-width:1.500" class="w" cx="942.800" cy="645.300" rx="2.600" ry="4"/>
<path style="stroke-width:1.100" class="ld" d="M948.1 643.5 L1004 632.800"/>
</g>
<g id="p172">
<path style="stroke-width:1.500" class="w" d="M876 712.500 L876 723.500 Q884.800 728.500 893.600 723.500 L893.600 712.500 Z"/><ellipse style="stroke-width:1.500" class="w" cx="884.800" cy="712.500" rx="8.800" ry="3.800"/><ellipse class="k" cx="884.800" cy="712.800" rx="3.600" ry="1.500"/><path class="b" d="M883.800 708 h2 v4 h-2z"/>
<path class="ld" d="M897 718.4 H910.2"/>
</g>
<g id="p48a"><ellipse style="stroke-width:1.400" class="w" cx="884.900" cy="737.800" rx="9.400" ry="4.200"/><ellipse style="stroke-width:2" class="w" cx="884.9" cy="736.7" rx="9.4" ry="4.200"/><ellipse style="stroke-width:1.400" class="k" cx="884.900" cy="737" rx="4.400" ry="1.800"/><path class="b" d="M884 731.500 h1.800 v4 h-1.800z"/><path class="ld" d="M897 738.1 H910.2"/></g>
<g id="p49"><ellipse style="stroke-width:1.500" class="w" cx="884.900" cy="754.500" rx="9.400" ry="5"/><ellipse style="stroke-width:1.800" class="w" cx="884.9" cy="752" rx="9.4" ry="5"/><ellipse style="stroke-width:1.500" class="k" cx="884.900" cy="752.500" rx="4.600" ry="2.200"/><path class="b" d="M884 746.500 h1.800 v4 h-1.800z"/><path class="ld" d="M897 753.3 H910.2"/></g>
<g id="p48b"><ellipse style="stroke-width:1.400" class="w" cx="884.900" cy="769" rx="9.400" ry="4.200"/><ellipse style="stroke-width:2" class="w" cx="884.9" cy="767.9" rx="9.4" ry="4.200"/><ellipse style="stroke-width:1.400" class="k" cx="884.900" cy="768.200" rx="4.400" ry="1.800"/><path class="b" d="M884 762.500 h1.800 v4 h-1.800z"/><path class="ld" d="M897 768.2 H910.2"/></g>
<g id="p50"><ellipse style="stroke-width:1.400" class="w" cx="884.900" cy="785.500" rx="12" ry="5.900"/><ellipse style="stroke-width:1.700" class="w" cx="884.9" cy="784.2" rx="12" ry="5.900"/><ellipse style="stroke-width:1.300" class="k" cx="884.900" cy="784.500" rx="4.200" ry="1.900"/><path class="b" d="M884 778.500 h1.800 v4.500 h-1.800z"/><path class="ld" d="M898.500 785.2 H910.2 M883.200 792.800 V798"/></g>
<g id="p39">
<path class="ld" d="M978.9 571.9 V588.5"/>
<path style="stroke-width:1.500" class="w" d="M955.6 586 L1000.1 599.7 L1000.1 642.3 L1004.9 647.8 Q1007.500 658 1006.7 668.2 L1003 675.6 L995.6 683 L988.2 694.1 L986.4 710.8 L982.6 705.3 L980.8 697.8 L971.5 696 L969.7 705.3 L966 697.800 L962.3 692.3 Q954 689 951.2 683 Q948 676 947.4 668.2 Q945 655 945.6 642.3 Q947 633 951.2 627.4 L955.6 625.6 Z"/>
<path style="stroke-width:1.500" class="k" d="M964.1 608.9 Q965 602 971.5 599.7 Q976 598.500 980.8 599.7 Q988 603 990.1 608.9 Q992 618 991.9 627.4 L991.9 662.6 L964.1 651.5 Q961 630 964.100 608.900 Z"/>
<ellipse style="stroke-width:1.400" class="k" cx="954.900" cy="650.400" rx="1.600" ry="2.600"/><ellipse style="stroke-width:1.400" class="k" cx="975.200" cy="668.900" rx="1.800" ry="2.800"/>
<rect style="stroke-width:1.200" class="k" x="967.800" y="682" width="17" height="3.400" rx="1.700" transform="rotate(18 967.800 682)"/>
<ellipse class="k" cx="970.500" cy="699.500" rx="1.100" ry="1.800"/><ellipse class="k" cx="984.500" cy="701.500" rx="1.100" ry="1.800"/>
<path style="stroke-width:1.100" class="ld" d="M948.1 643.5 L1004 632.800"/>
<ellipse style="stroke-width:1.100" class="w" cx="997.500" cy="634" rx="1.400" ry="2.300"/>
<path style="stroke-width:1.600" class="k" d="M1001 672 l2 3 l-2 3"/>
</g>
<g id="p26b">
<path style="stroke-width:1.500" class="w" d="M1007 622.500 L1018 621.900 Q1023.500 624.500 1023.400 630 Q1023 636 1018.500 638.300 L1007.500 638.600 Z"/>
<ellipse style="stroke-width:1.600" class="w" cx="1007" cy="630.500" rx="4" ry="8"/><ellipse class="b" cx="1007" cy="630.500" rx="2.200" ry="4.200"/><ellipse cx="1006.800" cy="630.500" rx="0.800" ry="1.800" fill="#fff"/>
<path style="stroke-width:2" class="ld" d="M1013 640.4 V694.1 L1047.5 692.3 V627.4 M1032.700 693.200 V699.700"/>
</g>
<g id="p26">
<path style="stroke-width:1.300" class="k" d="M1019 602.500 Q1024.500 601 1025 609.500 Q1025 617.500 1019.500 617 M1020 605 Q1022.500 605 1022.600 609.700 Q1022.500 614.500 1020 614.500"/>
<path style="stroke-width:1.200" class="ld" d="M1008.6 599.7 L1017.8 607.1 M1014 612.500 l4 -0.800"/>
</g>
<g id="p25a"><ellipse style="stroke-width:1.600" class="w" cx="1034.5" cy="608.9" rx="4.800" ry="8.200"/><ellipse class="k" cx="1034.500" cy="608.900" rx="2.400" ry="5"/><path style="stroke-width:1.200" class="ld" d="M1026.4 573.7 L1032.7 599.7"/></g>
<g id="p27">
<ellipse style="stroke-width:1.600" class="w" cx="1046.4" cy="608.2" rx="4.800" ry="8.200"/><ellipse class="k" cx="1046.400" cy="608.200" rx="2.400" ry="5"/>
<path class="ld" d="M1036.4 592.2 V576.3 H1050.1 V599.7 M1043 560.8 V576.3"/>
<path d="M1037 594.500 L1044 593" stroke="#000" stroke-width="2.600" stroke-dasharray="2.200 0.350" fill="none"/><circle style="stroke-width:1.200" class="w" cx="1035.500" cy="594.800" r="1.800"/>
<path style="stroke-width:1.100" class="ld" d="M1051 607.500 L1066 604.500"/>
</g>
<g id="p14b">
<g stroke="#000" stroke-width="1.500" fill="none"><path d="M1027.500 623 l8 -1.800 M1027.500 625.500 l8.500 -1.800 M1028 628 l8 -1.800 M1029 630 l6 -1.300"/><path d="M1040.500 621.500 l9 -1.800 M1040.500 624 l10 -1.800 M1041 626.500 l9.500 -1.800 M1042 628.800 l7 -1.300"/></g>
<path class="k" d="M1040 620 v8.500 M1051 619 v8"/>
<path class="ld" d="M1033.4 630.4 V657.1"/>
</g>
<g id="p805">
<path class="ld" d="M1067.9 555.2 V577.4"/>
<path style="stroke-width:1.500" class="w" d="M1054.9 599.7 Q1056 591 1060.5 586.7 Q1064 582 1069.7 581.100 Q1076 581 1080.8 584.8 Q1085 590 1086.4 597.8 Q1087 610 1084.5 620 L1080.8 631.2 L1066 631.2 L1062.3 625.6 Q1058 621 1056.8 616.3 Q1054.500 608 1054.900 599.700 Z"/>
<path class="k" d="M1069.700 581.100 Q1077 586 1078.500 598 Q1079 612 1075 622 L1066 631.200 M1075 622 L1080.800 631.200 M1062.300 625.600 L1066 620 L1075 622"/>
<g style="stroke-width:1.100" class="k"><circle cx="1062" cy="592" r="1.300"/><circle cx="1066" cy="588" r="1.300"/><circle cx="1070.500" cy="589.500" r="1.300"/><circle cx="1061" cy="612" r="1.300"/><circle cx="1068" cy="616" r="1.300"/></g>
<path style="stroke-width:0.900" class="k" d="M1067 598 Q1071 603 1069 610"/>
</g>
<g id="p29b"><ellipse style="stroke-width:1.700" class="w" cx="1059.3" cy="619.3" rx="4" ry="6.500"/><ellipse class="k" cx="1059.300" cy="619.300" rx="1.600" ry="3"/><path class="ld" d="M1057.9 627.4 V647.8"/></g>
<g id="p25b"><ellipse style="stroke-width:1.600" class="w" cx="1094.9" cy="598.9" rx="5.600" ry="8.200"/><ellipse style="stroke-width:1.300" class="k" cx="1094.900" cy="598.900" rx="3" ry="5"/><path style="stroke-width:1.300" class="ld" d="M1094.9 608.9 V647.8 M1103.8 598.5 L1112.3 597.8"/></g>

<!-- 92_schematic.svg -->
<g id="schem">
<g style="stroke-width:1" class="t">
<path d="M318.4 705.4 V626 H330.8 l1.200 -2.500 l2.300 5 l2.300 -5 l2.300 5 l2.300 -5 l2.300 5 l1.200 -2.500 H353 M359.500 626 H367 M381.500 626 H391.500 M398 626 H406.5 l1.200 -2.500 l2.300 5 l2.300 -5 l2.300 5 l2.300 -5 l2.300 5 l1.200 -2.500 H431.3 V655.8 L437 659"/>
<path d="M355.600 622.300 V609.400 H364.500 M384 609.400 H394.800 V622.300 M354.200 619.500 L355.600 622.500 L357 619.500 M393.400 619.500 L394.800 622.500 L396.200 619.500"/>
<path d="M318.400 705.400 H299.800 M299.800 694.700 H392.800 V729 M299.800 716.600 H318.400 L319.600 711.100 H379.200 V729"/>
<path d="M376.7 660 H384.100 V645.500 M376.700 661.500 H438.700 M376.700 669.400 H384.600 V729 M438.700 665.700 H397.800 V729"/>
<path d="M431.300 637.700 H441.200 M306.700 646.600 H315.900 M263.900 690.600 H271.900 M351.500 703.800 H355.600 M355.600 699.200 V709.100 M356.100 667.400 V671.400 M440 672.400 V676.400"/>
<path d="M382.900 773.700 V761.200 M394.100 773.700 V761.200 M381.500 764.500 L382.900 761 L384.300 764.500 M392.700 764.500 L394.100 761 L395.500 764.500"/>
<path d="M345.700 743.900 H360 M363 743.900 H366 M369 743.900 H400 M403 743.900 H406 M409 743.900 H412" stroke-width="0.900"/>
</g>
<path class="b" d="M380.400 645.900 L384.500 642 L388.600 645.900 Z"/>
<path style="stroke-width:0.900" class="t" d="M353.500 622.500 q-1.500 3.500 0 7 M359 622.500 q1.500 3.500 0 7 M355 623.500 h2.500 M355 628.500 h2.500 M392 622.500 q-1.500 3.500 0 7 M397.500 622.500 q1.500 3.500 0 7 M393.500 623.500 h2.500 M393.500 628.500 h2.500"/>
<circle style="stroke-width:1.300" class="w" cx="374.200" cy="626" r="7"/>
<circle class="b" cx="366.200" cy="626" r="1.600"/><circle class="b" cx="382.200" cy="626" r="1.600"/>
<rect style="stroke-width:1.200" class="w" x="342" y="654.500" width="34.700" height="19.900"/>
<!-- 138 box -->
<path style="stroke-width:1.300" class="w" d="M283.600 680.600 V673.500 Q283.600 669.400 288 669.400 Q292.300 669.400 292.300 673.500 V680.600"/>
<path style="stroke-width:1.400" class="w" d="M276.200 683 Q276.200 680.600 279 680.600 H298 Q301 680.600 301 683 V722.800 H276.200 Z"/>
<path style="stroke-width:1.300" class="w" d="M301 694.200 H306 V722.800 H301 Z"/>
<g style="stroke-width:1.200" class="w"><rect x="292.300" y="691.800" width="6.200" height="6.200"/><rect x="292.300" y="702.200" width="6.200" height="5.700"/><rect x="292.300" y="713.600" width="6.200" height="5.500"/></g>
<circle class="b" cx="318.400" cy="694.700" r="1"/><circle class="b" cx="384.600" cy="694.700" r="1"/>
<!-- X -->
<rect style="stroke-width:1.300" class="w" x="436.200" y="654" width="8.700" height="15.400"/>
<path style="stroke-width:1.700" class="k" d="M431.500 654.500 L453.500 669.500 M453.500 654.500 L431.500 670.500"/>
<path class="b" d="M437 659 h4 v5 h-4z"/>
<!-- switch 119 -->
<path style="stroke-width:1.400" class="w" d="M344.4 716.6 L355.6 715.8 L363 730.2 L369.2 758.8 L365.5 756.3 L353.1 756.3 L351.9 743.9 L349.4 729 L343.2 719.1 Z"/>
<path style="stroke-width:1.500" class="w" d="M363 729 L406.500 727.700 L406.500 758.800 L369.200 758.800 Z"/>
<path style="stroke-width:1.100" class="k" d="M402.700 728 V758.800"/>
<circle style="stroke-width:1.300" class="k" cx="384.100" cy="743.900" r="7"/><circle style="stroke-width:1.300" class="k" cx="384.100" cy="743.900" r="3.700"/>
<path style="stroke-width:0.900" class="k" d="M385 737 H392 V751 H385"/>
<path style="stroke-width:1.100" class="k" d="M378.500 731.500 q-1 1.500 0 2.500 M381 731.500 q1 1.500 0 2.500 M392 731.500 q-1 1.500 0 2.500 M394.500 731.500 q1 1.500 0 2.500 M397 731.500 q-1 1.500 0 2.500 M399.500 731.500 q1 1.500 0 2.500"/>
<g class="l" style="font-size:9.500px">
<text x="327.800" y="620.600" textLength="17.500" lengthAdjust="spacingAndGlyphs">106</text>
<text x="406.200" y="620.600" textLength="17.500" lengthAdjust="spacingAndGlyphs">106</text>
<text x="365.800" y="612.500" textLength="17.500" lengthAdjust="spacingAndGlyphs">137</text>
<text x="287" y="650.100" textLength="17.500" lengthAdjust="spacingAndGlyphs">144</text>
<text x="442.500" y="641.400" textLength="18" lengthAdjust="spacingAndGlyphs">146</text>
<text x="347.500" y="665.700" textLength="17" lengthAdjust="spacingAndGlyphs">121</text>
<text x="400.300" y="681.800" textLength="21.500" lengthAdjust="spacingAndGlyphs">-145</text>
<text x="431.500" y="686.300" textLength="17" lengthAdjust="spacingAndGlyphs">140</text>
<text x="332" y="707.900" textLength="18.500" lengthAdjust="spacingAndGlyphs">147</text>
<text x="408.900" y="741.400" textLength="22.500" lengthAdjust="spacingAndGlyphs">-119</text>
<text x="243.500" y="694.500" textLength="17" lengthAdjust="spacingAndGlyphs">138</text>
</g>
<g class="s">
<text x="287" y="657.500" font-size="6.800" font-weight="bold" textLength="17.500" lengthAdjust="spacingAndGlyphs">blau</text>
<text x="446.700" y="662.500" font-size="8.200" textLength="39" lengthAdjust="spacingAndGlyphs">Steckver -</text>
<text x="452.400" y="670.200" font-size="8.200" textLength="21" lengthAdjust="spacingAndGlyphs">teiler</text>
<text x="427.600" y="699" font-size="9.300" textLength="43" lengthAdjust="spacingAndGlyphs">Schaltplan</text>
<text x="380.400" y="785.500" font-size="8.400" textLength="18.600" lengthAdjust="spacingAndGlyphs">Netz</text>
<text x="288" y="697" font-size="4.500" font-weight="bold">3</text><text x="288" y="707.500" font-size="4.500" font-weight="bold">2</text><text x="288" y="718.800" font-size="4.500" font-weight="bold">1</text>
</g>
<path style="stroke-width:0.900" class="t" d="M427.600 701.700 H470.800"/>
</g>
<g id="eq806" class="l"><text x="554.600" y="784.600" textLength="7.500" lengthAdjust="spacingAndGlyphs">=</text><text x="570" y="784.600" textLength="23.500" lengthAdjust="spacingAndGlyphs">806</text></g>

<!-- 95_dots.svg -->
<g id="dots" class="b">
<circle cx="693.4" cy="686.6" r="4"/><circle cx="687" cy="701.8" r="4"/><circle cx="729.5" cy="698.8" r="4"/><circle cx="737.8" cy="752.6" r="4"/><circle cx="684" cy="778.6" r="4"/>
<circle cx="794.3" cy="600.5" r="4"/><circle cx="825.200" cy="601" r="4"/><circle cx="856.800" cy="586.400" r="4"/><circle cx="874" cy="608.2" r="4"/><circle cx="835.500" cy="646.500" r="4"/><circle cx="865.200" cy="682" r="4"/><circle cx="848.600" cy="759.200" r="4"/>
<circle cx="924.700" cy="581.200" r="4"/><circle cx="932.100" cy="536.900" r="4"/><circle cx="946.700" cy="613.700" r="4"/>
<circle cx="935.200" cy="733.900" r="4"/><circle cx="935.800" cy="750.600" r="4"/><circle cx="935.800" cy="766.800" r="4"/><circle cx="935.800" cy="781.400" r="4"/>
<circle cx="545.100" cy="779.200" r="4"/>
</g>

<g id="labels">
<text class="l" x="519" y="56" textLength="25" lengthAdjust="spacingAndGlyphs">126</text>
<text class="l" x="345.5" y="96.5" textLength="25" lengthAdjust="spacingAndGlyphs">120</text>
<text class="l" x="391.5" y="97.5" textLength="25" lengthAdjust="spacingAndGlyphs">119</text>
<text class="l" x="567.5" y="155.5" textLength="25" lengthAdjust="spacingAndGlyphs">144</text>
<text class="l" x="260.5" y="192.5" textLength="25" lengthAdjust="spacingAndGlyphs">147</text>
<text class="l" x="322" y="184.5" textLength="25" lengthAdjust="spacingAndGlyphs">128</text>
<text class="l" x="463.5" y="180.5" textLength="25" lengthAdjust="spacingAndGlyphs">118</text>
<text class="l" x="521.5" y="200" textLength="25" lengthAdjust="spacingAndGlyphs">117</text>
<text class="l" x="560" y="192" textLength="25" lengthAdjust="spacingAndGlyphs">116</text>
<text class="l" x="526" y="243.5" textLength="25" lengthAdjust="spacingAndGlyphs">114</text>
<text class="l" x="377.5" y="263" textLength="25" lengthAdjust="spacingAndGlyphs">127</text>
<text class="l" x="545.5" y="273.5" textLength="25" lengthAdjust="spacingAndGlyphs">132</text>
<text class="l" x="584" y="274.5" textLength="25" lengthAdjust="spacingAndGlyphs">110</text>
<text class="l" x="411" y="293" textLength="25" lengthAdjust="spacingAndGlyphs">808</text>
<text class="l" x="335" y="305" textLength="25" lengthAdjust="spacingAndGlyphs">105</text>
<text class="l" x="258" y="315" textLength="25" lengthAdjust="spacingAndGlyphs">109</text>
<text class="l" x="213" y="136" textLength="25" lengthAdjust="spacingAndGlyphs">138</text>
<text class="l" x="641" y="65" textLength="25" lengthAdjust="spacingAndGlyphs">133</text>
<text class="l" x="749.5" y="80" textLength="25" lengthAdjust="spacingAndGlyphs">160</text>
<text class="l" x="702" y="119.5" textLength="25" lengthAdjust="spacingAndGlyphs">130</text>
<text class="l" x="738.5" y="164" textLength="25" lengthAdjust="spacingAndGlyphs">115</text>
<text class="l" x="764.5" y="222" textLength="25" lengthAdjust="spacingAndGlyphs">145</text>
<text class="l" x="764.5" y="244" textLength="25" lengthAdjust="spacingAndGlyphs">146</text>
<text class="l" x="726" y="246.5" textLength="25" lengthAdjust="spacingAndGlyphs">111</text>
<text class="l" x="647" y="273" textLength="25" lengthAdjust="spacingAndGlyphs">137</text>
<text class="l" x="806" y="288.5" textLength="25" lengthAdjust="spacingAndGlyphs">121</text>
<text class="l" x="947" y="200" textLength="25" lengthAdjust="spacingAndGlyphs">124</text>
<text class="l" x="1055" y="256.5" textLength="25" lengthAdjust="spacingAndGlyphs">125</text>
<text class="l" x="813.5" y="370.5" textLength="25" lengthAdjust="spacingAndGlyphs">135</text>
<text class="l" x="994" y="385.5" textLength="25" lengthAdjust="spacingAndGlyphs">134</text>
<text class="l" x="1024.5" y="404" textLength="25" lengthAdjust="spacingAndGlyphs">103</text>
<text class="l" x="792" y="396" textLength="25" lengthAdjust="spacingAndGlyphs">170</text>
<text class="l" x="304.5" y="417" textLength="25" lengthAdjust="spacingAndGlyphs">107</text>
<text class="l" x="375.5" y="409.5" textLength="25" lengthAdjust="spacingAndGlyphs">108</text>
<text class="l" x="484.5" y="409.5" textLength="16" lengthAdjust="spacingAndGlyphs">14</text>
<text class="l" x="511.5" y="413.5" textLength="25" lengthAdjust="spacingAndGlyphs">888</text>
<text class="l" x="539" y="408" textLength="25" lengthAdjust="spacingAndGlyphs">123</text>
<text class="l" x="563.5" y="387" textLength="25" lengthAdjust="spacingAndGlyphs">110</text>
<text class="l" x="398" y="429" textLength="16" lengthAdjust="spacingAndGlyphs">16</text>
<text class="l" x="430" y="436" textLength="16" lengthAdjust="spacingAndGlyphs">15</text>
<text class="l" x="370" y="443" textLength="16" lengthAdjust="spacingAndGlyphs">18</text>
<text class="l" x="269" y="443" textLength="16" lengthAdjust="spacingAndGlyphs">22</text>
<text class="l" x="230" y="457" textLength="16" lengthAdjust="spacingAndGlyphs">20</text>
<text class="l" x="305" y="443" textLength="16" lengthAdjust="spacingAndGlyphs">20</text>
<text class="l" x="324.5" y="507" textLength="16" lengthAdjust="spacingAndGlyphs">21</text>
<text class="l" x="520" y="442" textLength="16" lengthAdjust="spacingAndGlyphs">12</text>
<text class="l" x="542" y="432.5" textLength="16" lengthAdjust="spacingAndGlyphs">60</text>
<text class="l" x="541" y="468" textLength="16" lengthAdjust="spacingAndGlyphs">29</text>
<text class="l" x="489" y="502" textLength="16" lengthAdjust="spacingAndGlyphs">13</text>
<text class="l" x="509" y="513.5" textLength="16" lengthAdjust="spacingAndGlyphs">36</text>
<text class="l" x="500.5" y="546" textLength="16" lengthAdjust="spacingAndGlyphs">17</text>
<text class="l" x="620.5" y="329.5" textLength="25" lengthAdjust="spacingAndGlyphs">112</text>
<text class="l" x="675.5" y="320" textLength="25" lengthAdjust="spacingAndGlyphs">140</text>
<text class="l" x="714" y="333" textLength="25" lengthAdjust="spacingAndGlyphs">137</text>
<text class="l" x="747.5" y="361.5" textLength="25" lengthAdjust="spacingAndGlyphs">139</text>
<text class="l" x="703" y="345.5" textLength="25" lengthAdjust="spacingAndGlyphs">111</text>
<text class="l" x="719.5" y="383.5" textLength="25" lengthAdjust="spacingAndGlyphs">114</text>
<text class="l" x="666" y="403.5" textLength="16" lengthAdjust="spacingAndGlyphs">67</text>
<text class="l" x="651.5" y="416" textLength="7" lengthAdjust="spacingAndGlyphs">5</text>
<text class="l" x="692.5" y="409" textLength="7" lengthAdjust="spacingAndGlyphs">6</text>
<text class="l" x="708" y="404.5" textLength="7" lengthAdjust="spacingAndGlyphs">9</text>
<text class="l" x="728" y="401" textLength="7" lengthAdjust="spacingAndGlyphs">7</text>
<text class="l" x="756" y="394.5" textLength="7" lengthAdjust="spacingAndGlyphs">8</text>
<text class="l" x="662" y="490.5" textLength="16" lengthAdjust="spacingAndGlyphs">38</text>
<text class="l" x="815.5" y="500.5" textLength="25" lengthAdjust="spacingAndGlyphs">812</text>
<text class="l" x="776" y="511" textLength="16" lengthAdjust="spacingAndGlyphs">62</text>
<text class="l" x="759" y="524.5" textLength="16" lengthAdjust="spacingAndGlyphs">34</text>
<text class="l" x="781.5" y="540" textLength="16" lengthAdjust="spacingAndGlyphs">37</text>
<text class="l" x="815" y="549.5" textLength="16" lengthAdjust="spacingAndGlyphs">66</text>
<text class="l" x="746.5" y="566.5" textLength="16" lengthAdjust="spacingAndGlyphs">70</text>
<text class="l" x="710" y="559.5" textLength="16" lengthAdjust="spacingAndGlyphs">35</text>
<text class="l" x="614.5" y="561.5" textLength="16" lengthAdjust="spacingAndGlyphs">34</text>
<text class="l" x="584" y="566.5" textLength="25" lengthAdjust="spacingAndGlyphs">804</text>
<text class="l" x="545.5" y="571.5" textLength="16" lengthAdjust="spacingAndGlyphs">32</text>
<text class="l" x="858.5" y="476" textLength="25" lengthAdjust="spacingAndGlyphs">102</text>
<text class="l" x="544.5" y="646" textLength="25" lengthAdjust="spacingAndGlyphs">810</text>
<text class="l" x="607" y="632.5" textLength="16" lengthAdjust="spacingAndGlyphs">64</text>
<text class="l" x="607" y="649.5" textLength="16" lengthAdjust="spacingAndGlyphs">65</text>
<text class="l" x="708.5" y="624" textLength="16" lengthAdjust="spacingAndGlyphs">68</text>
<text class="l" x="784" y="610" textLength="7" lengthAdjust="spacingAndGlyphs">4</text>
<text class="l" x="814" y="617" textLength="34" lengthAdjust="spacingAndGlyphs">41/1</text>
<text class="l" x="843" y="602.5" textLength="34" lengthAdjust="spacingAndGlyphs">43/1</text>
<text class="l" x="856" y="618.5" textLength="16" lengthAdjust="spacingAndGlyphs">45</text>
<text class="l" x="818" y="659" textLength="16" lengthAdjust="spacingAndGlyphs">42</text>
<text class="l" x="959.5" y="442.5" textLength="25" lengthAdjust="spacingAndGlyphs">104</text>
<text class="l" x="937" y="462" textLength="25" lengthAdjust="spacingAndGlyphs">105</text>
<text class="l" x="912.5" y="546.5" textLength="16" lengthAdjust="spacingAndGlyphs">53</text>
<text class="l" x="912.5" y="568.5" textLength="25" lengthAdjust="spacingAndGlyphs">171</text>
<text class="l" x="898.5" y="591" textLength="25" lengthAdjust="spacingAndGlyphs">844</text>
<text class="l" x="971.5" y="569.5" textLength="16" lengthAdjust="spacingAndGlyphs">39</text>
<text class="l" x="1035" y="557" textLength="16" lengthAdjust="spacingAndGlyphs">27</text>
<text class="l" x="1063" y="551.5" textLength="25" lengthAdjust="spacingAndGlyphs">805</text>
<text class="l" x="1014.5" y="572" textLength="16" lengthAdjust="spacingAndGlyphs">25</text>
<text class="l" x="1000.5" y="595.5" textLength="16" lengthAdjust="spacingAndGlyphs">26</text>
<text class="l" x="899.5" y="620" textLength="16" lengthAdjust="spacingAndGlyphs">46</text>
<text class="l" x="926.5" y="623.5" textLength="16" lengthAdjust="spacingAndGlyphs">47</text>
<text class="l" x="914.5" y="723.5" textLength="25" lengthAdjust="spacingAndGlyphs">172</text>
<text class="l" x="914.5" y="742.5" textLength="16" lengthAdjust="spacingAndGlyphs">48</text>
<text class="l" x="914.5" y="760" textLength="16" lengthAdjust="spacingAndGlyphs">49</text>
<text class="l" x="914.5" y="775" textLength="16" lengthAdjust="spacingAndGlyphs">48</text>
<text class="l" x="914.5" y="792" textLength="16" lengthAdjust="spacingAndGlyphs">50</text>
<text class="l" x="837.5" y="753.5" textLength="25" lengthAdjust="spacingAndGlyphs">803</text>
<text class="l" x="851" y="697" textLength="34" lengthAdjust="spacingAndGlyphs">41/1</text>
<text class="l" x="660" y="710.5" textLength="25" lengthAdjust="spacingAndGlyphs">811</text>
<text class="l" x="710.5" y="708.5" textLength="16" lengthAdjust="spacingAndGlyphs">59</text>
<text class="l" x="718.5" y="761" textLength="16" lengthAdjust="spacingAndGlyphs">58</text>
<text class="l" x="658" y="788.5" textLength="25" lengthAdjust="spacingAndGlyphs">811</text>
<text class="l" x="1024" y="666.5" textLength="16" lengthAdjust="spacingAndGlyphs">14</text>
<text class="l" x="1054" y="659" textLength="16" lengthAdjust="spacingAndGlyphs">29</text>
<text class="l" x="1087.5" y="660" textLength="16" lengthAdjust="spacingAndGlyphs">25</text>
<text class="l" x="1020" y="714.5" textLength="25" lengthAdjust="spacingAndGlyphs">814</text>
<text class="l" x="218" y="589" textLength="16" lengthAdjust="spacingAndGlyphs">23</text>
<text class="l" x="333.5" y="593" textLength="16" lengthAdjust="spacingAndGlyphs">19</text>
<text class="l" x="350" y="584.5" textLength="16" lengthAdjust="spacingAndGlyphs">17</text>
</g>
</svg>
</body></html>
